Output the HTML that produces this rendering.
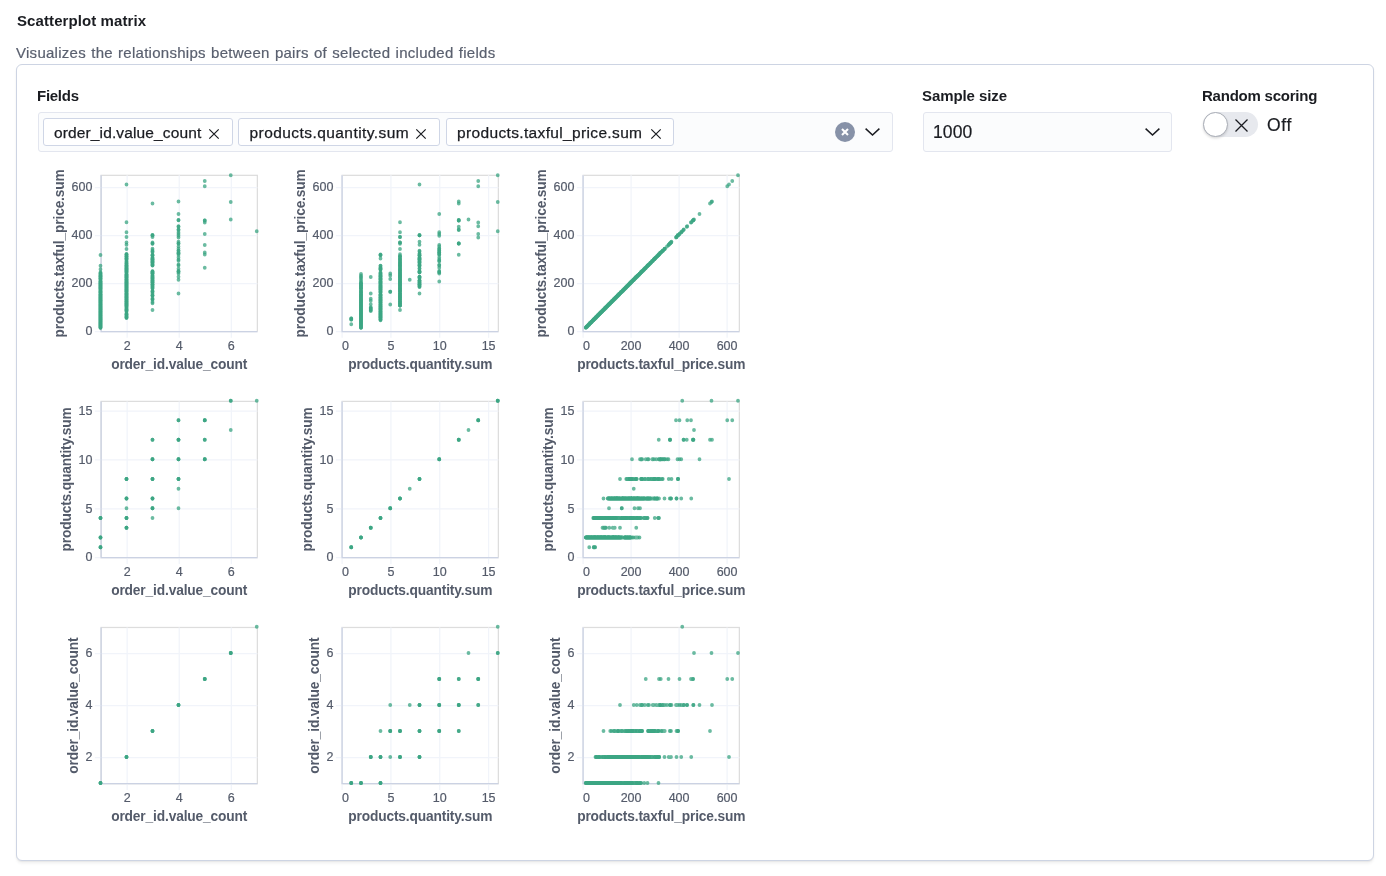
<!DOCTYPE html>
<html lang="en">
<head>
<meta charset="utf-8">
<title>Scatterplot matrix</title>
<style>
  html, body { margin: 0; padding: 0; background: #fff; }
  body {
    width: 1386px; height: 876px; position: relative; overflow: hidden;
    font-family: "Liberation Sans", Arial, Helvetica, sans-serif;
    color: #1a1c21;
    -webkit-font-smoothing: antialiased;
  }
  .abs { position: absolute; white-space: nowrap; line-height: 1; }
  .title { left: 16.8px; top: 13px; font-size: 15px; font-weight: 700; color: #1a1c21; letter-spacing: .09px; }
  .desc { left: 16.3px; top: 45px; font-size: 15px; color: #5a606f; letter-spacing: .27px; word-spacing: .8px; -webkit-text-stroke: .2px #5a606f; }
  .panel {
    position: absolute; left: 16px; top: 64px; width: 1358px; height: 797px;
    box-sizing: border-box; border: 1.25px solid #cdd4e3; border-radius: 6px;
    background: #fff;
    box-shadow: 0 1px 1.2px rgba(0,0,0,.06), 0 2.9px 2.6px rgba(0,0,0,.045);
  }
  .label { font-size: 15px; font-weight: 700; color: #1a1c21; }
  .control {
    position: absolute; box-sizing: border-box; height: 39.5px; top: 112.3px;
    background: #fbfcfd; border: 1.25px solid #e3e6ef; border-radius: 3px;
  }
  .pill {
    position: absolute; top: 118.2px; height: 28.1px; box-sizing: border-box; will-change: transform;
    background: #fff; border: 1.25px solid #cfd6e6; border-radius: 3px;
  }
  .pill span { position: absolute; top: 5.8px; font-size: 15.5px; line-height: 15.5px; -webkit-text-stroke: .25px #1a1c21; color: #1a1c21; white-space: nowrap; }
  svg.ico { position: absolute; overflow: visible; }
  svg.chart { will-change: transform; }
  .abs { will-change: transform; }
  .val { font-size: 17.5px; color: #1a1c21; }
  .switch-body { position: absolute; left: 1203px; top: 112px; width: 55px; height: 25px; border-radius: 12.5px; background: #e7e9ee; }
  .switch-thumb {
    position: absolute; left: 1203px; top: 112px; width: 25px; height: 25px; box-sizing: border-box;
    border-radius: 50%; background: #fff; border: 1px solid #a9adb6;
    box-shadow: 0 1.5px 2.5px rgba(0,0,0,.14);
  }
</style>
</head>
<body>
  <div class="abs title">Scatterplot matrix</div>
  <div class="abs desc">Visualizes the relationships between pairs of selected included fields</div>

  <div class="panel"></div>

  <div class="abs label" style="left:37.1px; top:87.6px; letter-spacing:-.27px;">Fields</div>
  <div class="control" style="left:38.3px; width:854.8px;"></div>

  <div class="pill" style="left:43.2px; width:189.5px;"><span style="left:10px; letter-spacing:.13px;">order_id.value_count</span>
    <svg class="ico" style="left:165px; top:10.3px;" width="10" height="10" viewBox="0 0 10 10"><path d="M0.3 0.3L9.7 9.7M9.7 0.3L0.3 9.7" stroke="#1a1c21" stroke-width="1.2" fill="none"/></svg></div>
  <div class="pill" style="left:238.3px; width:202.3px;"><span style="left:10.5px; letter-spacing:.435px;">products.quantity.sum</span>
    <svg class="ico" style="left:177px; top:10.3px;" width="10" height="10" viewBox="0 0 10 10"><path d="M0.3 0.3L9.7 9.7M9.7 0.3L0.3 9.7" stroke="#1a1c21" stroke-width="1.2" fill="none"/></svg></div>
  <div class="pill" style="left:446.2px; width:228.2px;"><span style="left:10px; letter-spacing:.35px;">products.taxful_price.sum</span>
    <svg class="ico" style="left:204px; top:10.3px;" width="10" height="10" viewBox="0 0 10 10"><path d="M0.3 0.3L9.7 9.7M9.7 0.3L0.3 9.7" stroke="#1a1c21" stroke-width="1.2" fill="none"/></svg></div>

  <!-- clear button + caret of combo box -->
  <svg class="ico" style="left:835px; top:122px;" width="20" height="20" viewBox="0 0 20 20">
    <circle cx="10" cy="10" r="10" fill="#8792a8"/>
    <path d="M7 7L13 13M13 7L7 13" stroke="#fff" stroke-width="2.1" fill="none"/>
  </svg>
  <svg class="ico" style="left:865.2px; top:128px;" width="15" height="8" viewBox="0 0 15 8"><path d="M0.6 0.6L7.5 7L14.4 0.6" stroke="#1a1c21" stroke-width="1.5" fill="none"/></svg>

  <div class="abs label" style="left:922.2px; top:87.7px; letter-spacing:-.09px;">Sample size</div>
  <div class="control" style="left:923.2px; width:249.2px;"></div>
  <div class="abs val" style="left:932.8px; top:124.3px; letter-spacing:.1px; -webkit-text-stroke:.2px #1a1c21;">1000</div>
  <svg class="ico" style="left:1145.2px; top:128px;" width="15" height="8" viewBox="0 0 15 8"><path d="M0.6 0.6L7.5 7L14.4 0.6" stroke="#1a1c21" stroke-width="1.5" fill="none"/></svg>

  <div class="abs label" style="left:1202.3px; top:87.7px; letter-spacing:-.23px;">Random scoring</div>
  <div class="switch-body"></div>
  <div class="switch-thumb"></div>
  <svg class="ico" style="left:1235px; top:118.5px;" width="13" height="13" viewBox="0 0 13 13"><path d="M0.5 0.5L12.5 12.5M12.5 0.5L0.5 12.5" stroke="#1a1c21" stroke-width="1.3" fill="none"/></svg>
  <div class="abs val" style="left:1267.2px; top:116.6px; letter-spacing:.7px; -webkit-text-stroke:.2px #1a1c21;">Off</div>

<svg class="chart" width="1386" height="876" viewBox="0 0 1386 876" style="position:absolute;left:0;top:0" font-family="'Liberation Sans', Helvetica, Arial, sans-serif">
<g><rect x="101.1" y="175.34" width="156.25" height="156.25" fill="none" stroke="#dddddd" stroke-width="1.25"/><path d="M127.14 175.34V337.84M179.22 175.34V337.84M231.31 175.34V337.84M94.85 331.59H257.35M94.85 283.59H257.35M94.85 235.58H257.35M94.85 187.58H257.35" stroke="#f1f4fa" stroke-width="1.25" fill="none"/><path d="M101.1 175.34V331.59H257.35" stroke="#cbd2e3" stroke-width="1.25" fill="none"/><g font-size="12.5" fill="#545b6a" stroke="#545b6a" stroke-width=".2"><text x="127.14" y="350.22" text-anchor="middle">2</text><text x="179.22" y="350.22" text-anchor="middle">4</text><text x="231.31" y="350.22" text-anchor="middle">6</text><text x="92.35" y="335.34" text-anchor="end">0</text><text x="92.35" y="287.34" text-anchor="end">200</text><text x="92.35" y="239.33" text-anchor="end">400</text><text x="92.35" y="191.33" text-anchor="end">600</text></g><g font-size="13.75" font-weight="bold" fill="#545b6a" text-anchor="middle" letter-spacing="-.15"><text x="179.22" y="369.2">order_id.value_count</text><text transform="translate(63.61 253.47) rotate(-90)">products.taxful_price.sum</text></g><g fill="none" stroke="#3aa482" stroke-width="3.8" stroke-linecap="round" stroke-opacity=".75"><path d="M100.5 255h0M100.5 272.25h0M100.5 274h0M100.5 275.75h0M100.5 276.5h0M100.5 277h0M100.5 278.25h0M100.5 278.75h0M100.5 281h0M100.5 281.75h0M100.5 282.75h0M100.5 283.25h0M100.5 283.5h0M100.5 284h0M100.5 284.75h0M100.5 285.25h0M100.5 286h0M100.5 286.25h0M100.5 287h0M100.5 287.5h0M100.5 288h0M100.5 288.5h0M100.5 288.75h0M100.5 289.25h0M100.5 291h0M100.5 291.75h0M100.5 292.25h0M100.5 292.75h0M100.5 294h0M100.5 294.25h0M100.5 294.5h0M100.5 294.75h0M100.5 295.25h0M100.5 295.5h0M100.5 296h0M100.5 296.75h0M100.5 297h0M100.5 297.5h0M100.5 297.75h0M100.5 298h0M100.5 298.25h0M100.5 298.75h0M100.5 299h0M100.5 299.5h0M100.5 299.75h0M100.5 300.25h0M100.5 300.5h0M100.5 300.75h0M100.5 301h0M100.5 301.25h0M100.5 301.5h0M100.5 302h0M100.5 302.5h0M100.5 303h0M100.5 303.75h0M100.5 304h0M100.5 304.25h0M100.5 304.75h0M100.5 305h0M100.5 305.25h0M100.5 305.5h0M100.5 306h0M100.5 306.25h0M100.5 306.5h0M100.5 306.75h0M100.5 307.5h0M100.5 307.75h0M100.5 308h0M100.5 308.25h0M100.5 308.5h0M100.5 308.75h0M100.5 309h0M100.5 309.25h0M100.5 309.5h0M100.5 309.75h0M100.5 310h0M100.5 310.5h0M100.5 311.25h0M100.5 311.5h0M100.5 311.75h0M100.5 312h0M100.5 312.25h0M100.5 312.75h0M100.5 313h0M100.5 313.25h0M100.5 313.5h0M100.5 314h0M100.5 314.5h0M100.5 315h0M100.5 315.25h0M100.5 315.5h0M100.5 315.75h0M100.5 316h0M100.5 316.25h0M100.5 316.5h0M100.5 317h0M100.5 317.5h0M100.5 317.75h0M100.5 318h0M100.5 318.5h0M100.5 318.75h0M100.5 319h0M100.5 319.25h0M100.5 319.5h0M100.5 319.75h0M100.5 320h0M100.5 320.25h0M100.5 320.5h0M100.5 321.25h0M100.5 321.5h0M100.5 321.75h0M100.5 322.25h0M100.5 322.5h0M100.5 323h0M100.5 323.25h0M100.5 323.5h0M100.5 324h0M100.5 324.5h0M100.5 325h0M100.5 325.5h0M100.5 325.75h0M100.5 326.25h0M100.5 326.5h0M100.5 326.75h0M100.5 327h0M100.5 327.5h0M126.5 222.25h0M126.5 242.5h0M126.5 254.25h0M126.5 255.25h0M126.5 256.5h0M126.5 258.5h0M126.5 259.25h0M126.5 262.75h0M126.5 264.25h0M126.5 265.75h0M126.5 266h0M126.5 267.25h0M126.5 268.25h0M126.5 268.75h0M126.5 269.25h0M126.5 270h0M126.5 270.75h0M126.5 271.75h0M126.5 274h0M126.5 274.75h0M126.5 275.25h0M126.5 275.75h0M126.5 276h0M126.5 276.75h0M126.5 277h0M126.5 277.5h0M126.5 279h0M126.5 279.5h0M126.5 279.75h0M126.5 280.5h0M126.5 281.75h0M126.5 282h0M126.5 282.25h0M126.5 282.5h0M126.5 282.75h0M126.5 283.5h0M126.5 284h0M126.5 284.25h0M126.5 285h0M126.5 285.25h0M126.5 286h0M126.5 286.5h0M126.5 287.25h0M126.5 288h0M126.5 289h0M126.5 289.5h0M126.5 289.75h0M126.5 290.25h0M126.5 290.75h0M126.5 291.25h0M126.5 291.5h0M126.5 292h0M126.5 293.5h0M126.5 294.25h0M126.5 294.75h0M126.5 295.75h0M126.5 296.25h0M126.5 296.5h0M126.5 297.25h0M126.5 297.75h0M126.5 298.75h0M126.5 299.25h0M126.5 299.75h0M126.5 301h0M126.5 301.25h0M126.5 301.75h0M126.5 302.5h0M126.5 303.5h0M126.5 304h0M126.5 304.25h0M126.5 305h0M126.5 305.5h0M126.5 306.25h0M126.5 308h0M126.5 309.75h0M126.5 310.25h0M126.5 314h0M126.5 314.75h0M126.5 316.75h0M126.5 318h0M152.5 235.25h0M152.5 242.5h0M152.5 248.75h0M152.5 252h0M152.5 255.5h0M152.5 258.25h0M152.5 259.25h0M152.5 260h0M152.5 261.5h0M152.5 263h0M152.5 264.75h0M152.5 271.25h0M152.5 272h0M152.5 272.5h0M152.5 273.5h0M152.5 275.75h0M152.5 277.75h0M152.5 279h0M152.5 280.75h0M152.5 282.25h0M152.5 282.5h0M152.5 284.75h0M152.5 286.5h0M152.5 288.5h0M152.5 291.75h0M152.5 295.5h0M152.5 299.25h0M152.5 303.25h0M178.5 214h0M178.5 226.25h0M178.5 230h0M178.5 235.75h0M178.5 243.5h0M178.5 248.75h0M178.5 253h0M178.5 254.75h0M178.5 260.75h0M178.5 268.75h0M178.5 272h0M178.5 279.75h0M204.75 186.25h0M204.75 222.5h0M204.75 252.5h0M230.75 175.25h0M256.75 231.25h0"/><path d="M100.5 265.75h0M100.5 273h0M100.5 274.5h0M100.5 275.75h0M100.5 276.5h0M100.5 277h0M100.5 278.25h0M100.5 279.25h0M100.5 281.5h0M100.5 282.25h0M100.5 282.75h0M100.5 283.25h0M100.5 283.75h0M100.5 284.25h0M100.5 285h0M100.5 285.25h0M100.5 286h0M100.5 286.5h0M100.5 287.25h0M100.5 287.75h0M100.5 288h0M100.5 288.5h0M100.5 288.75h0M100.5 290h0M100.5 291.25h0M100.5 292h0M100.5 292.25h0M100.5 292.75h0M100.5 294h0M100.5 294.25h0M100.5 294.5h0M100.5 295h0M100.5 295.25h0M100.5 295.5h0M100.5 296.5h0M100.5 296.75h0M100.5 297h0M100.5 297.5h0M100.5 298h0M100.5 298.25h0M100.5 298.5h0M100.5 299h0M100.5 299.5h0M100.5 299.75h0M100.5 300h0M100.5 300.25h0M100.5 300.5h0M100.5 300.75h0M100.5 301h0M100.5 301.25h0M100.5 301.75h0M100.5 302h0M100.5 302.5h0M100.5 303h0M100.5 303.75h0M100.5 304h0M100.5 304.5h0M100.5 304.75h0M100.5 305h0M100.5 305.25h0M100.5 305.5h0M100.5 306h0M100.5 306.25h0M100.5 306.5h0M100.5 307h0M100.5 307.5h0M100.5 307.75h0M100.5 308h0M100.5 308.25h0M100.5 308.5h0M100.5 308.75h0M100.5 309h0M100.5 309.25h0M100.5 309.5h0M100.5 309.75h0M100.5 310h0M100.5 311h0M100.5 311.25h0M100.5 311.5h0M100.5 311.75h0M100.5 312h0M100.5 312.25h0M100.5 312.75h0M100.5 313h0M100.5 313.25h0M100.5 314h0M100.5 314.25h0M100.5 314.5h0M100.5 315h0M100.5 315.25h0M100.5 315.5h0M100.5 315.75h0M100.5 316.25h0M100.5 316.5h0M100.5 317h0M100.5 317.25h0M100.5 317.5h0M100.5 317.75h0M100.5 318h0M100.5 318.5h0M100.5 318.75h0M100.5 319h0M100.5 319.25h0M100.5 319.5h0M100.5 319.75h0M100.5 320h0M100.5 320.25h0M100.5 320.5h0M100.5 321.5h0M100.5 321.75h0M100.5 322h0M100.5 322.5h0M100.5 322.75h0M100.5 323.25h0M100.5 323.5h0M100.5 324h0M100.5 324.25h0M100.5 324.75h0M100.5 325.25h0M100.5 325.5h0M100.5 325.75h0M100.5 326.25h0M100.5 326.5h0M100.5 326.75h0M100.5 327.25h0M100.5 327.75h0M126.5 232.25h0M126.5 244.75h0M126.5 254.25h0M126.5 256.25h0M126.5 257.5h0M126.5 258.75h0M126.5 261h0M126.5 263h0M126.5 265.25h0M126.5 265.75h0M126.5 266.25h0M126.5 267.75h0M126.5 268.25h0M126.5 269h0M126.5 269.75h0M126.5 270.25h0M126.5 271.25h0M126.5 272.25h0M126.5 274h0M126.5 274.75h0M126.5 275.5h0M126.5 275.75h0M126.5 276.25h0M126.5 277h0M126.5 277.25h0M126.5 277.75h0M126.5 279h0M126.5 279.5h0M126.5 280h0M126.5 280.5h0M126.5 281.75h0M126.5 282h0M126.5 282.25h0M126.5 282.5h0M126.5 283h0M126.5 283.5h0M126.5 284.25h0M126.5 284.5h0M126.5 285.25h0M126.5 285.75h0M126.5 286h0M126.5 286.75h0M126.5 287.5h0M126.5 288.25h0M126.5 289h0M126.5 289.5h0M126.5 290h0M126.5 290.25h0M126.5 291h0M126.5 291.5h0M126.5 292h0M126.5 293.25h0M126.5 293.75h0M126.5 294.25h0M126.5 294.75h0M126.5 296h0M126.5 296.5h0M126.5 297h0M126.5 297.25h0M126.5 297.75h0M126.5 299h0M126.5 299.25h0M126.5 300h0M126.5 301h0M126.5 301.5h0M126.5 302h0M126.5 303.25h0M126.5 303.5h0M126.5 304h0M126.5 304.5h0M126.5 305h0M126.5 305.5h0M126.5 306.5h0M126.5 308.75h0M126.5 310h0M126.5 311h0M126.5 314h0M126.5 315.5h0M126.5 317.25h0M152.5 203.5h0M152.5 235.25h0M152.5 243.5h0M152.5 250.25h0M152.5 254.5h0M152.5 255.5h0M152.5 258.5h0M152.5 259.5h0M152.5 260.75h0M152.5 262h0M152.5 263h0M152.5 265.25h0M152.5 271.5h0M152.5 272.25h0M152.5 273h0M152.5 273.75h0M152.5 276.75h0M152.5 278h0M152.5 280h0M152.5 281.25h0M152.5 282.25h0M152.5 284h0M152.5 284.75h0M152.5 287h0M152.5 290.75h0M152.5 293.5h0M152.5 295.75h0M152.5 299.75h0M152.5 310h0M178.5 220h0M178.5 226.75h0M178.5 232.25h0M178.5 237.5h0M178.5 243.5h0M178.5 250.75h0M178.5 253h0M178.5 257.25h0M178.5 264.5h0M178.5 271h0M178.5 273.5h0M178.5 293.5h0M204.75 220.5h0M204.75 234h0M204.75 254.5h0M230.75 202h0"/><path d="M100.5 269.25h0M100.5 273.75h0M100.5 275.75h0M100.5 276h0M100.5 276.75h0M100.5 278h0M100.5 278.5h0M100.5 280h0M100.5 281.5h0M100.5 282.75h0M100.5 283h0M100.5 283.25h0M100.5 284h0M100.5 284.5h0M100.5 285.25h0M100.5 285.75h0M100.5 286h0M100.5 287h0M100.5 287.5h0M100.5 287.75h0M100.5 288h0M100.5 288.75h0M100.5 289.25h0M100.5 290.75h0M100.5 291.5h0M100.5 292h0M100.5 292.25h0M100.5 294h0M100.5 294.25h0M100.5 294.5h0M100.5 294.75h0M100.5 295.25h0M100.5 295.5h0M100.5 295.75h0M100.5 296.5h0M100.5 297h0M100.5 297.25h0M100.5 297.5h0M100.5 298h0M100.5 298.25h0M100.5 298.75h0M100.5 299h0M100.5 299.5h0M100.5 299.75h0M100.5 300h0M100.5 300.25h0M100.5 300.5h0M100.5 300.75h0M100.5 301h0M100.5 301.5h0M100.5 302h0M100.5 302.25h0M100.5 302.75h0M100.5 303h0M100.5 304h0M100.5 304.25h0M100.5 304.5h0M100.5 304.75h0M100.5 305h0M100.5 305.25h0M100.5 305.5h0M100.5 306h0M100.5 306.25h0M100.5 306.5h0M100.5 307.25h0M100.5 307.5h0M100.5 307.75h0M100.5 308h0M100.5 308.25h0M100.5 308.75h0M100.5 309h0M100.5 309.25h0M100.5 309.5h0M100.5 309.75h0M100.5 310h0M100.5 310.25h0M100.5 311h0M100.5 311.25h0M100.5 311.5h0M100.5 312h0M100.5 312.25h0M100.5 312.5h0M100.5 313h0M100.5 313.25h0M100.5 313.5h0M100.5 314h0M100.5 314.25h0M100.5 314.5h0M100.5 315h0M100.5 315.25h0M100.5 315.5h0M100.5 316h0M100.5 316.25h0M100.5 316.5h0M100.5 317h0M100.5 317.25h0M100.5 317.75h0M100.5 318h0M100.5 318.25h0M100.5 318.5h0M100.5 318.75h0M100.5 319h0M100.5 319.25h0M100.5 319.5h0M100.5 319.75h0M100.5 320h0M100.5 320.5h0M100.5 320.75h0M100.5 321.5h0M100.5 321.75h0M100.5 322h0M100.5 322.5h0M100.5 323h0M100.5 323.25h0M100.5 323.5h0M100.5 324h0M100.5 324.5h0M100.5 324.75h0M100.5 325.25h0M100.5 325.5h0M100.5 326h0M100.5 326.5h0M100.5 326.75h0M100.5 327h0M100.5 327.5h0M126.5 184.5h0M126.5 237h0M126.5 249h0M126.5 254.5h0M126.5 256.25h0M126.5 258.25h0M126.5 259h0M126.5 261.25h0M126.5 263.75h0M126.5 265.25h0M126.5 266h0M126.5 266.5h0M126.5 268h0M126.5 268.25h0M126.5 269h0M126.5 269.75h0M126.5 270.75h0M126.5 271.5h0M126.5 272.25h0M126.5 274.75h0M126.5 275h0M126.5 275.75h0M126.5 276h0M126.5 276.25h0M126.5 277h0M126.5 277.25h0M126.5 278h0M126.5 279.25h0M126.5 279.75h0M126.5 280h0M126.5 281.25h0M126.5 281.75h0M126.5 282h0M126.5 282.25h0M126.5 282.75h0M126.5 283h0M126.5 283.75h0M126.5 284.25h0M126.5 284.75h0M126.5 285.25h0M126.5 285.75h0M126.5 286.25h0M126.5 287h0M126.5 287.75h0M126.5 288.75h0M126.5 289.25h0M126.5 289.75h0M126.5 290h0M126.5 290.5h0M126.5 291h0M126.5 291.5h0M126.5 292h0M126.5 293.5h0M126.5 293.75h0M126.5 294.5h0M126.5 295.25h0M126.5 296h0M126.5 296.5h0M126.5 297.25h0M126.5 297.5h0M126.5 298.25h0M126.5 299h0M126.5 299.5h0M126.5 300.75h0M126.5 301.25h0M126.5 301.75h0M126.5 302.5h0M126.5 303.25h0M126.5 303.75h0M126.5 304.25h0M126.5 305h0M126.5 305.25h0M126.5 305.5h0M126.5 307.25h0M126.5 309.5h0M126.5 310.25h0M126.5 312h0M126.5 314.5h0M126.5 316.25h0M126.5 317.5h0M152.5 235.25h0M152.5 237h0M152.5 243.75h0M152.5 251.5h0M152.5 255.25h0M152.5 257.75h0M152.5 259.25h0M152.5 259.5h0M152.5 261.25h0M152.5 262.5h0M152.5 264.75h0M152.5 265.5h0M152.5 272h0M152.5 272.25h0M152.5 273.5h0M152.5 275.5h0M152.5 277h0M152.5 278.75h0M152.5 280.5h0M152.5 281.5h0M152.5 282.5h0M152.5 284.5h0M152.5 285.5h0M152.5 288h0M152.5 291.75h0M152.5 295.25h0M152.5 298.25h0M152.5 302h0M178.5 201.5h0M178.5 220.25h0M178.5 229.5h0M178.5 234h0M178.5 241.75h0M178.5 246.5h0M178.5 250.75h0M178.5 253.5h0M178.5 259.5h0M178.5 265.5h0M178.5 271.5h0M178.5 276.75h0M204.75 181h0M204.75 220.5h0M204.75 245h0M204.75 267.75h0M230.75 219.5h0"/></g></g>
<g><rect x="342.1" y="175.34" width="156.25" height="156.25" fill="none" stroke="#dddddd" stroke-width="1.25"/><path d="M342.1 175.34V337.84M390.93 175.34V337.84M439.76 175.34V337.84M488.58 175.34V337.84M335.85 331.59H498.35M335.85 283.59H498.35M335.85 235.58H498.35M335.85 187.58H498.35" stroke="#f1f4fa" stroke-width="1.25" fill="none"/><path d="M342.1 175.34V331.59H498.35" stroke="#cbd2e3" stroke-width="1.25" fill="none"/><g font-size="12.5" fill="#545b6a" stroke="#545b6a" stroke-width=".2"><text x="342.1" y="350.22" text-anchor="start">0</text><text x="390.93" y="350.22" text-anchor="middle">5</text><text x="439.76" y="350.22" text-anchor="middle">10</text><text x="488.58" y="350.22" text-anchor="middle">15</text><text x="333.35" y="335.34" text-anchor="end">0</text><text x="333.35" y="287.34" text-anchor="end">200</text><text x="333.35" y="239.33" text-anchor="end">400</text><text x="333.35" y="191.33" text-anchor="end">600</text></g><g font-size="13.75" font-weight="bold" fill="#545b6a" text-anchor="middle" letter-spacing="-.15"><text x="420.23" y="369.2">products.quantity.sum</text><text transform="translate(304.61 253.47) rotate(-90)">products.taxful_price.sum</text></g><g fill="none" stroke="#3aa482" stroke-width="3.8" stroke-linecap="round" stroke-opacity=".75"><path d="M351.25 318.5h0M351.25 319.5h0M361 275.75h0M361 280h0M361 283.25h0M361 283.5h0M361 284h0M361 285.25h0M361 286h0M361 286.5h0M361 287.5h0M361 288h0M361 288.75h0M361 290.75h0M361 292h0M361 292.25h0M361 294h0M361 294.25h0M361 294.5h0M361 294.75h0M361 295.25h0M361 295.5h0M361 296h0M361 296.75h0M361 297h0M361 298h0M361 298.25h0M361 298.75h0M361 299h0M361 299.5h0M361 299.75h0M361 300.25h0M361 300.5h0M361 300.75h0M361 301h0M361 301.5h0M361 302h0M361 303h0M361 303.75h0M361 304h0M361 304.5h0M361 305h0M361 305.5h0M361 306h0M361 306.5h0M361 307.5h0M361 307.75h0M361 308h0M361 308.5h0M361 309h0M361 309.25h0M361 309.5h0M361 309.75h0M361 310h0M361 311h0M361 311.25h0M361 311.5h0M361 312h0M361 312.25h0M361 312.75h0M361 313.25h0M361 313.5h0M361 314h0M361 314.5h0M361 315h0M361 315.25h0M361 315.75h0M361 316h0M361 316.5h0M361 317h0M361 317.5h0M361 318h0M361 318.25h0M361 318.75h0M361 319h0M361 319.25h0M361 319.5h0M361 319.75h0M361 320h0M361 320.5h0M361 321.25h0M361 321.5h0M361 321.75h0M361 322.25h0M361 322.5h0M361 323h0M361 323.25h0M361 323.5h0M361 324h0M361 324.75h0M361 325.25h0M361 325.5h0M361 325.75h0M361 326.25h0M361 326.5h0M361 326.75h0M361 327.25h0M361 327.75h0M370.75 298.75h0M370.75 307.25h0M370.75 309.5h0M380.5 254.5h0M380.5 258.5h0M380.5 267.75h0M380.5 269h0M380.5 272.25h0M380.5 274h0M380.5 275.75h0M380.5 276.5h0M380.5 277h0M380.5 278.5h0M380.5 279.5h0M380.5 281h0M380.5 281.75h0M380.5 282.25h0M380.5 282.75h0M380.5 283.25h0M380.5 285.25h0M380.5 286h0M380.5 287h0M380.5 287.75h0M380.5 288.75h0M380.5 289.25h0M380.5 290.25h0M380.5 292h0M380.5 294.25h0M380.5 295.25h0M380.5 295.5h0M380.5 296.5h0M380.5 297.5h0M380.5 297.75h0M380.5 299h0M380.5 299.5h0M380.5 300.25h0M380.5 300.75h0M380.5 301.25h0M380.5 302.5h0M380.5 303.5h0M380.5 304.75h0M380.5 305h0M380.5 306h0M380.5 306.25h0M380.5 307h0M380.5 308h0M380.5 308.5h0M380.5 309h0M380.5 309.5h0M380.5 310.25h0M380.5 311.5h0M380.5 312.25h0M380.5 313h0M380.5 314h0M380.5 314.5h0M380.5 315.25h0M380.5 315.5h0M380.5 316.5h0M380.5 317h0M380.5 317.25h0M380.5 317.75h0M380.5 318h0M380.5 319.5h0M390.25 273.5h0M390.25 291.75h0M400 222.25h0M400 237h0M400 243.75h0M400 256.25h0M400 257.75h0M400 259.25h0M400 261.5h0M400 263h0M400 264.75h0M400 265.75h0M400 266.5h0M400 268.75h0M400 269.75h0M400 270.75h0M400 272h0M400 273h0M400 274h0M400 274.75h0M400 275.5h0M400 275.75h0M400 276.25h0M400 276.75h0M400 277.25h0M400 278h0M400 279h0M400 279.75h0M400 280.5h0M400 281.75h0M400 282h0M400 282.25h0M400 282.5h0M400 283.5h0M400 284.25h0M400 284.75h0M400 285.5h0M400 286.5h0M400 287.75h0M400 288.5h0M400 289.25h0M400 289.75h0M400 290.25h0M400 290.75h0M400 291.25h0M400 291.5h0M400 293.5h0M400 293.75h0M400 294.75h0M400 295.75h0M400 296.25h0M400 296.5h0M400 297.25h0M400 297.75h0M400 298.25h0M400 299.25h0M400 299.75h0M400 301.25h0M400 301.75h0M400 302h0M400 303.25h0M400 303.75h0M400 304.25h0M400 305.25h0M400 305.5h0M419.5 184.5h0M419.5 235.25h0M419.5 250.75h0M419.5 254.25h0M419.5 255.5h0M419.5 258.25h0M419.5 259.5h0M419.5 260.75h0M419.5 262.5h0M419.5 265.25h0M419.5 268.25h0M419.5 271.5h0M419.5 271.75h0M419.5 272.5h0M419.5 277h0M419.5 280.5h0M419.5 281.75h0M419.5 283.5h0M419.5 284.25h0M419.5 285h0M419.5 287h0M439.25 232.25h0M439.25 245h0M439.25 248.75h0M439.25 252h0M439.25 253h0M439.25 257.25h0M439.25 261.25h0M439.25 267.75h0M439.25 272.25h0M458.75 201.5h0M458.75 220.25h0M458.75 226.75h0M458.75 243.5h0M458.75 254.75h0M478.25 186.25h0M478.25 234h0M497.75 202h0"/><path d="M351.25 318.5h0M351.25 324.25h0M361 277h0M361 281.5h0M361 283.25h0M361 283.75h0M361 284.5h0M361 285.25h0M361 286h0M361 287h0M361 287.75h0M361 288h0M361 288.75h0M361 291h0M361 292h0M361 292.75h0M361 294h0M361 294.25h0M361 294.5h0M361 295h0M361 295.25h0M361 295.5h0M361 296.5h0M361 297h0M361 297.5h0M361 298h0M361 298.25h0M361 298.75h0M361 299.5h0M361 299.75h0M361 300h0M361 300.25h0M361 300.5h0M361 301h0M361 301.25h0M361 301.75h0M361 302.5h0M361 303h0M361 304h0M361 304.25h0M361 305h0M361 305.25h0M361 305.5h0M361 306h0M361 306.5h0M361 307.5h0M361 307.75h0M361 308h0M361 308.75h0M361 309h0M361 309.25h0M361 309.75h0M361 310h0M361 310.25h0M361 311h0M361 311.25h0M361 311.75h0M361 312h0M361 312.25h0M361 312.75h0M361 313.25h0M361 314h0M361 314.25h0M361 315h0M361 315.25h0M361 315.5h0M361 315.75h0M361 316.25h0M361 316.5h0M361 317h0M361 317.75h0M361 318h0M361 318.5h0M361 318.75h0M361 319h0M361 319.25h0M361 319.75h0M361 320h0M361 320.25h0M361 320.5h0M361 321.5h0M361 321.75h0M361 322h0M361 322.5h0M361 322.75h0M361 323.25h0M361 323.5h0M361 324h0M361 324.5h0M361 324.75h0M361 325.25h0M361 325.5h0M361 326h0M361 326.5h0M361 326.75h0M361 327h0M361 327.5h0M370.75 277h0M370.75 300.75h0M370.75 308h0M370.75 310.25h0M380.5 255h0M380.5 265.75h0M380.5 268.25h0M380.5 269.25h0M380.5 273h0M380.5 274.5h0M380.5 275.75h0M380.5 276.5h0M380.5 278h0M380.5 278.75h0M380.5 279.5h0M380.5 281.5h0M380.5 282h0M380.5 282.75h0M380.5 283h0M380.5 284.25h0M380.5 285.25h0M380.5 286.25h0M380.5 287.25h0M380.5 288h0M380.5 289h0M380.5 289.75h0M380.5 291.5h0M380.5 292h0M380.5 294.5h0M380.5 295.25h0M380.5 295.5h0M380.5 297h0M380.5 297.5h0M380.5 298h0M380.5 299h0M380.5 299.75h0M380.5 300.5h0M380.5 301h0M380.5 302h0M380.5 302.5h0M380.5 304.25h0M380.5 304.75h0M380.5 305h0M380.5 306.25h0M380.5 306.5h0M380.5 307.25h0M380.5 308.25h0M380.5 308.75h0M380.5 309.25h0M380.5 309.75h0M380.5 311.25h0M380.5 311.75h0M380.5 313h0M380.5 313.25h0M380.5 314h0M380.5 314.5h0M380.5 315.5h0M380.5 316.25h0M380.5 316.5h0M380.5 317h0M380.5 317.5h0M380.5 317.75h0M380.5 318.5h0M380.5 319.5h0M390.25 275.5h0M390.25 291.75h0M400 232.25h0M400 242.5h0M400 249h0M400 256.25h0M400 258.5h0M400 260h0M400 262.75h0M400 263.75h0M400 265.25h0M400 265.75h0M400 267.25h0M400 269h0M400 270h0M400 270.75h0M400 272.25h0M400 273.5h0M400 274.75h0M400 275h0M400 275.75h0M400 276h0M400 276.25h0M400 277h0M400 277.5h0M400 278.75h0M400 279.25h0M400 280h0M400 281.25h0M400 282h0M400 282.25h0M400 282.5h0M400 282.75h0M400 283.75h0M400 284.5h0M400 285.25h0M400 285.75h0M400 287h0M400 288h0M400 288.75h0M400 289.5h0M400 290h0M400 290.5h0M400 291h0M400 291.5h0M400 292h0M400 293.5h0M400 294.25h0M400 295.25h0M400 296h0M400 296.5h0M400 297h0M400 297.25h0M400 297.75h0M400 299h0M400 299.25h0M400 299.75h0M400 301.25h0M400 301.75h0M400 302.5h0M400 303.25h0M400 304h0M400 305h0M400 305.5h0M400 310h0M419.5 235.25h0M419.5 241.75h0M419.5 251.5h0M419.5 255.25h0M419.5 257.5h0M419.5 258.75h0M419.5 259.5h0M419.5 261.25h0M419.5 263h0M419.5 265.5h0M419.5 268.75h0M419.5 271.5h0M419.5 272h0M419.5 276.75h0M419.5 277.75h0M419.5 280.5h0M419.5 282.25h0M419.5 284h0M419.5 284.75h0M419.5 285.75h0M419.5 293.5h0M439.25 234h0M439.25 246.5h0M439.25 250.25h0M439.25 252.5h0M439.25 254.5h0M439.25 259.25h0M439.25 264.75h0M439.25 271h0M439.25 273.5h0M458.75 203.5h0M458.75 220.5h0M458.75 229.5h0M458.75 243.5h0M468.5 219.5h0M478.25 222.5h0M478.25 237.5h0M497.75 231.25h0"/><path d="M351.25 319.5h0M361 274h0M361 278.25h0M361 283h0M361 283.25h0M361 284h0M361 285h0M361 285.75h0M361 286.25h0M361 287.5h0M361 288h0M361 288.5h0M361 288.75h0M361 291.25h0M361 292.25h0M361 292.75h0M361 294h0M361 294.25h0M361 294.75h0M361 295.25h0M361 295.5h0M361 295.75h0M361 296.75h0M361 297h0M361 297.5h0M361 298h0M361 298.5h0M361 299h0M361 299.5h0M361 299.75h0M361 300h0M361 300.5h0M361 300.75h0M361 301h0M361 301.5h0M361 302h0M361 302.75h0M361 303.75h0M361 304h0M361 304.5h0M361 305h0M361 305.25h0M361 305.5h0M361 306.25h0M361 306.75h0M361 307.75h0M361 308h0M361 308.25h0M361 308.75h0M361 309h0M361 309.5h0M361 309.75h0M361 310h0M361 310.5h0M361 311.25h0M361 311.5h0M361 312h0M361 312.25h0M361 312.5h0M361 313h0M361 313.25h0M361 314h0M361 314.25h0M361 315h0M361 315.25h0M361 315.5h0M361 316h0M361 316.25h0M361 317h0M361 317.25h0M361 317.75h0M361 318h0M361 318.5h0M361 318.75h0M361 319h0M361 319.25h0M361 319.75h0M361 320h0M361 320.5h0M361 320.75h0M361 321.5h0M361 321.75h0M361 322h0M361 322.5h0M361 323h0M361 323.25h0M361 323.5h0M361 324h0M361 324.5h0M361 325h0M361 325.5h0M361 325.75h0M361 326.25h0M361 326.5h0M361 326.75h0M361 327h0M361 327.5h0M370.75 293.5h0M370.75 304.25h0M370.75 308.75h0M370.75 311h0M380.5 255.25h0M380.5 266h0M380.5 268.25h0M380.5 269.75h0M380.5 273.75h0M380.5 275.75h0M380.5 276h0M380.5 276.75h0M380.5 278.25h0M380.5 279.25h0M380.5 280h0M380.5 281.75h0M380.5 282.25h0M380.5 282.75h0M380.5 283.25h0M380.5 284.75h0M380.5 286h0M380.5 286.75h0M380.5 287.5h0M380.5 288.5h0M380.5 289.25h0M380.5 290h0M380.5 291.75h0M380.5 292.25h0M380.5 294.5h0M380.5 295.25h0M380.5 295.5h0M380.5 297.25h0M380.5 297.5h0M380.5 298.25h0M380.5 299.5h0M380.5 300h0M380.5 300.75h0M380.5 301h0M380.5 302.25h0M380.5 303h0M380.5 304.75h0M380.5 305h0M380.5 305.25h0M380.5 306.25h0M380.5 306.5h0M380.5 307.5h0M380.5 308.25h0M380.5 308.75h0M380.5 309.5h0M380.5 310h0M380.5 311.25h0M380.5 312h0M380.5 313h0M380.5 313.5h0M380.5 314.5h0M380.5 314.75h0M380.5 315.5h0M380.5 316.25h0M380.5 316.75h0M380.5 317.25h0M380.5 317.5h0M380.5 318h0M380.5 319.5h0M380.5 320.25h0M390.25 279h0M390.25 304.5h0M400 237h0M400 242.5h0M400 254.25h0M400 256.5h0M400 259.25h0M400 261h0M400 263h0M400 264.25h0M400 265.25h0M400 266.25h0M400 268h0M400 269.25h0M400 270.25h0M400 271.25h0M400 272.25h0M400 273.75h0M400 274.75h0M400 275.25h0M400 275.75h0M400 276h0M400 276.75h0M400 277.25h0M400 277.75h0M400 279h0M400 279.75h0M400 280h0M400 281.25h0M400 282h0M400 282.25h0M400 282.5h0M400 283h0M400 284h0M400 284.5h0M400 285.25h0M400 286h0M400 287.25h0M400 288.25h0M400 289h0M400 289.5h0M400 290h0M400 290.75h0M400 291h0M400 291.5h0M400 293.25h0M400 293.75h0M400 294.75h0M400 295.75h0M400 296h0M400 296.5h0M400 297.25h0M400 297.5h0M400 298.25h0M400 299h0M400 299.25h0M400 301h0M400 301.5h0M400 302h0M400 303.25h0M400 303.5h0M400 304h0M400 305h0M400 305.5h0M409.75 279.75h0M419.5 235.25h0M419.5 244.75h0M419.5 253.5h0M419.5 255.5h0M419.5 258.25h0M419.5 259h0M419.5 259.5h0M419.5 262h0M419.5 264.5h0M419.5 266h0M419.5 271.25h0M419.5 271.5h0M419.5 272.25h0M419.5 277h0M419.5 278h0M419.5 280.75h0M419.5 282.25h0M419.5 284.25h0M419.5 284.75h0M419.5 286.5h0M439.25 214h0M439.25 235.75h0M439.25 248.75h0M439.25 250.75h0M439.25 253h0M439.25 254.5h0M439.25 260.75h0M439.25 265.5h0M439.25 272h0M439.25 281.5h0M458.75 220h0M458.75 220.5h0M458.75 230h0M458.75 243.5h0M478.25 181h0M478.25 226.25h0M497.75 175.25h0"/></g></g>
<g><rect x="583.1" y="175.34" width="156.25" height="156.25" fill="none" stroke="#dddddd" stroke-width="1.25"/><path d="M583.1 175.34V337.84M631.1 175.34V337.84M679.11 175.34V337.84M727.11 175.34V337.84M576.85 331.59H739.35M576.85 283.59H739.35M576.85 235.58H739.35M576.85 187.58H739.35" stroke="#f1f4fa" stroke-width="1.25" fill="none"/><path d="M583.1 175.34V331.59H739.35" stroke="#cbd2e3" stroke-width="1.25" fill="none"/><g font-size="12.5" fill="#545b6a" stroke="#545b6a" stroke-width=".2"><text x="583.1" y="350.22" text-anchor="start">0</text><text x="631.1" y="350.22" text-anchor="middle">200</text><text x="679.11" y="350.22" text-anchor="middle">400</text><text x="727.11" y="350.22" text-anchor="middle">600</text><text x="574.35" y="335.34" text-anchor="end">0</text><text x="574.35" y="287.34" text-anchor="end">200</text><text x="574.35" y="239.33" text-anchor="end">400</text><text x="574.35" y="191.33" text-anchor="end">600</text></g><g font-size="13.75" font-weight="bold" fill="#545b6a" text-anchor="middle" letter-spacing="-.15"><text x="661.23" y="369.2">products.taxful_price.sum</text><text transform="translate(545.61 253.47) rotate(-90)">products.taxful_price.sum</text></g><g fill="none" stroke="#3aa482" stroke-width="3.8" stroke-linecap="round" stroke-opacity=".75"><path d="M585.75 327.75h0M586 327.5h0M586.75 326.5h0M586.75 326.75h0M587.25 326.25h0M587.75 325.75h0M588 325.5h0M588.25 325.25h0M588.75 324.75h0M589.25 324h0M589.5 324h0M590 323.25h0M590 323.5h0M590.25 323.25h0M591 322.25h0M591 322.5h0M591.5 322h0M591.75 321.75h0M592 321.5h0M592.75 320.5h0M593 320.5h0M593.5 319.75h0M593.5 320h0M593.75 319.5h0M594 319.5h0M594.25 319h0M594.5 319h0M594.75 318.75h0M595 318.5h0M595.25 318h0M595.5 318h0M595.75 317.5h0M595.75 317.75h0M596 317.5h0M596.25 317.25h0M596.5 317h0M597 316.25h0M597 316.5h0M597.25 316.25h0M597.75 315.5h0M598 315.25h0M598 315.5h0M598.25 315.25h0M598.5 314.75h0M599 314.5h0M599.25 314h0M599.25 314.25h0M599.5 314h0M600 313.25h0M600.25 313.25h0M600.5 312.75h0M600.5 313h0M601 312.25h0M601.25 312.25h0M601.5 312h0M601.75 311.75h0M602 311.5h0M602.25 311.25h0M602.5 311h0M603 310.25h0M603.25 310.25h0M603.5 310h0M603.75 309.75h0M604 309.5h0M604.25 309.25h0M604.5 309h0M604.75 308.75h0M605 308.5h0M605.25 308h0M605.5 307.75h0M605.75 307.5h0M605.75 307.75h0M606 307.5h0M606.75 306.5h0M607 306.5h0M607.25 306.25h0M607.5 306h0M607.75 305.5h0M608 305.5h0M608.25 305h0M608.25 305.25h0M608.5 305h0M608.75 304.75h0M609 304.5h0M609.25 304h0M609.25 304.25h0M609.5 304h0M609.75 303.75h0M610.25 303.25h0M610.5 302.75h0M610.75 302.5h0M611 302.5h0M611.5 301.75h0M611.5 302h0M612 301.5h0M612.25 301h0M612.25 301.25h0M612.5 300.75h0M612.5 301h0M612.75 300.75h0M613 300.5h0M613.25 300.25h0M613.5 300h0M613.75 299.75h0M614 299.25h0M614 299.5h0M614.25 299.25h0M614.5 299h0M614.75 298.75h0M615 298.25h0M615.25 298.25h0M615.5 298h0M615.75 297.5h0M615.75 297.75h0M616 297.5h0M616.25 297.25h0M616.5 297h0M616.75 296.5h0M617 296.5h0M617.25 296h0M617.5 296h0M617.75 295.75h0M618 295.25h0M618 295.5h0M618.25 295.25h0M618.75 294.75h0M619 294.25h0M619 294.5h0M619.25 294.25h0M619.5 293.75h0M619.5 294h0M620 293.5h0M620.5 292.75h0M621.25 292h0M621.5 292h0M621.75 291.5h0M621.75 291.75h0M622 291.5h0M622.5 291h0M622.75 290.75h0M623 290.5h0M623.25 290.25h0M623.75 289.75h0M624 289.5h0M624.25 289.25h0M624.75 288.75h0M625 288.5h0M625.25 288h0M625.5 288h0M625.75 287.75h0M626 287.5h0M626.25 287.25h0M626.5 287h0M627 286.25h0M627 286.5h0M627.5 285.75h0M627.5 286h0M628 285.5h0M628.25 285.25h0M628.5 285h0M628.75 284.75h0M629 284.5h0M629.25 284.25h0M629.5 284h0M629.75 283.5h0M630 283.25h0M630.25 283h0M630.25 283.25h0M630.5 283h0M630.75 282.75h0M631 282.25h0M631 282.5h0M631.25 282.25h0M631.5 281.75h0M631.5 282h0M632 281.25h0M632 281.5h0M632.5 281h0M633 280.5h0M633.5 280h0M633.75 279.75h0M634 279.5h0M634.25 279.25h0M634.5 279h0M635.25 278h0M635.25 278.25h0M635.75 277.5h0M636.25 277h0M636.25 277.25h0M636.5 277h0M636.75 276.75h0M637 276.5h0M637.5 275.75h0M637.5 276h0M637.75 275.75h0M638 275.5h0M638.75 274.75h0M639.5 274h0M639.75 273.75h0M640 273.5h0M640.5 273h0M641.25 272h0M641.25 272.25h0M641.75 271.5h0M642.25 271h0M642.75 270.75h0M643.5 270h0M644.25 269.25h0M644.5 269h0M645.25 268.25h0M645.5 268h0M646.25 267.25h0M647.5 265.75h0M647.5 266h0M648 265.5h0M648.25 265.25h0M649 264.5h0M650.25 263h0M650.75 262.75h0M652 261.5h0M652.25 261.25h0M653.5 260h0M654 259.5h0M654.25 259.25h0M654.75 258.5h0M655.25 258.25h0M656.25 257.25h0M657.25 256.25h0M658.25 255.25h0M658.75 254.75h0M659 254.5h0M659.75 253.5h0M660.75 252.5h0M662.75 250.75h0M664.5 249h0M667 246.5h0M669.75 243.75h0M670 243.5h0M671.5 241.75h0M676.5 237h0M678 235.25h0M679.5 234h0M682.25 231.25h0M686.75 226.75h0M691.25 222.25h0M693.25 220.25h0M699.5 214h0M712 201.5h0M732.25 181h0"/><path d="M586 327.25h0M586.5 327h0M586.75 326.75h0M587 326.5h0M587.25 326.25h0M587.75 325.75h0M588 325.5h0M588.5 325h0M588.75 324.75h0M589.25 324.25h0M589.5 324h0M590 323.5h0M590.25 323h0M590.25 323.25h0M591 322.5h0M591.5 321.75h0M591.5 322h0M592 321.5h0M592.25 321.25h0M593 320.25h0M593.25 320.25h0M593.5 320h0M593.75 319.5h0M593.75 319.75h0M594 319.5h0M594.25 319.25h0M594.5 319h0M594.75 318.75h0M595 318.5h0M595.25 318.25h0M595.5 318h0M595.75 317.75h0M596 317.25h0M596.25 317h0M596.25 317.25h0M596.5 317h0M597 316.5h0M597.25 316.25h0M597.5 316h0M597.75 315.75h0M598 315.25h0M598 315.5h0M598.25 315.25h0M598.5 315h0M599 314.5h0M599.25 314h0M599.5 314h0M599.75 313.5h0M600 313.25h0M600.25 313.25h0M600.5 312.75h0M600.5 313h0M601.25 312h0M601.25 312.25h0M601.5 312h0M602 311.25h0M602 311.5h0M602.25 311.25h0M602.5 311h0M603 310.5h0M603.5 310h0M603.75 309.75h0M604 309.25h0M604 309.5h0M604.5 309h0M604.75 308.75h0M605 308.25h0M605 308.5h0M605.25 308h0M605.5 308h0M605.75 307.5h0M605.75 307.75h0M606.25 307h0M606.75 306.75h0M607 306.5h0M607.25 306.25h0M607.5 306h0M607.75 305.5h0M608 305.5h0M608.25 305.25h0M608.5 304.75h0M608.5 305h0M608.75 304.75h0M609.25 304h0M609.25 304.25h0M609.5 303.75h0M609.75 303.5h0M610 303.5h0M610.25 303.25h0M610.5 303h0M611 302.25h0M611 302.5h0M611.5 302h0M611.75 301.75h0M612 301.5h0M612.25 301h0M612.25 301.25h0M612.5 301h0M612.75 300.75h0M613 300.5h0M613.25 300.25h0M613.5 299.75h0M613.5 300h0M613.75 299.75h0M614 299.5h0M614.25 299h0M614.25 299.25h0M614.5 299h0M614.75 298.75h0M615 298.5h0M615.25 298.25h0M615.5 298h0M615.75 297.5h0M615.75 297.75h0M616.25 297h0M616.25 297.25h0M616.5 297h0M616.75 296.75h0M617 296.5h0M617.25 296.25h0M617.75 295.5h0M617.75 295.75h0M618 295.25h0M618 295.5h0M618.25 295.25h0M618.75 294.75h0M619 294.25h0M619 294.5h0M619.25 294.25h0M619.5 293.75h0M620 293.5h0M620.25 293.25h0M621 292.25h0M621.25 292.25h0M621.5 292h0M621.75 291.75h0M622 291.5h0M622.25 291.25h0M622.5 291h0M622.75 290.75h0M623.25 290h0M623.5 290h0M623.75 289.75h0M624.25 289h0M624.25 289.25h0M624.75 288.75h0M625 288.5h0M625.25 288.25h0M625.5 288h0M625.75 287.75h0M626 287.5h0M626.25 287.25h0M626.5 287h0M627 286.5h0M627.25 286h0M627.5 286h0M627.75 285.75h0M628.25 285.25h0M628.5 284.75h0M628.75 284.75h0M629 284.25h0M629 284.5h0M629.25 284.25h0M629.5 284h0M629.75 283.75h0M630 283.25h0M630.25 283h0M630.25 283.25h0M630.75 282.75h0M631 282.25h0M631 282.5h0M631.25 282h0M631.25 282.25h0M631.5 281.75h0M631.5 282h0M632 281.25h0M632 281.5h0M633 280.5h0M633.25 280h0M633.5 280h0M633.75 279.75h0M634.25 279h0M634.5 278.75h0M634.75 278.75h0M635.25 278h0M635.5 277.75h0M635.75 277.75h0M636.25 277h0M636.5 277h0M636.75 276.75h0M637 276.25h0M637.25 276.25h0M637.5 276h0M637.75 275.75h0M638 275.25h0M638.5 275h0M638.75 274.75h0M639.5 274h0M639.75 273.75h0M640 273.5h0M641 272.5h0M641.25 272.25h0M641.5 272h0M641.75 271.75h0M642.25 271.25h0M642.75 270.75h0M643.75 269.75h0M644.25 269.25h0M644.5 269h0M645.25 268.25h0M645.75 267.75h0M646.75 266.5h0M647.5 265.75h0M647.5 266h0M648.25 265.25h0M648.5 264.75h0M649.25 264.25h0M650.5 263h0M651 262.5h0M652.25 261h0M652.75 260.75h0M653.75 259.5h0M654 259.5h0M654.5 259h0M654.75 258.75h0M655.5 257.75h0M657 256.5h0M658 255.5h0M658.25 255.25h0M659 254.25h0M659 254.5h0M660.25 253h0M661.5 252h0M662.75 250.75h0M664.75 248.75h0M668.5 245h0M670 243.5h0M671 242.5h0M676 237.5h0M677.5 235.75h0M678 235.25h0M681.25 232.25h0M683.5 230h0M687.25 226.25h0M693 220.5h0M693.5 220h0M710 203.5h0M727.25 186.25h0M738 175.25h0"/><path d="M586 327.5h0M586.5 327h0M586.75 326.75h0M587 326.5h0M587.5 326h0M588 325.5h0M588.25 325.25h0M588.75 324.5h0M589 324.5h0M589.5 324h0M590 323.25h0M590 323.5h0M590.25 323h0M590.75 322.75h0M591 322.5h0M591.5 321.75h0M591.75 321.75h0M592 321.5h0M592.5 320.75h0M593 320.5h0M593.5 319.75h0M593.5 320h0M593.75 319.5h0M594 319.25h0M594 319.5h0M594.25 319.25h0M594.75 318.5h0M594.75 318.75h0M595 318.5h0M595.5 317.75h0M595.5 318h0M595.75 317.75h0M596 317.5h0M596.25 317h0M596.5 317h0M596.75 316.75h0M597 316.5h0M597.25 316.25h0M597.5 316h0M597.75 315.75h0M598 315.5h0M598.25 315h0M598.25 315.25h0M598.5 315h0M599 314.5h0M599.25 314.25h0M599.5 314h0M600 313.25h0M600 313.5h0M600.25 313.25h0M600.5 313h0M600.75 312.5h0M601.25 312h0M601.25 312.25h0M601.75 311.75h0M602 311.5h0M602.25 311h0M602.25 311.25h0M603 310.25h0M603.25 310h0M603.5 310h0M603.75 309.75h0M604 309.5h0M604.25 309.25h0M604.5 309h0M604.75 308.75h0M605 308.25h0M605.25 308h0M605.25 308.25h0M605.5 308h0M605.75 307.75h0M606 307.25h0M606.25 307.25h0M607 306.25h0M607 306.5h0M607.25 306.25h0M607.5 306h0M608 305.25h0M608 305.5h0M608.25 305.25h0M608.5 305h0M608.75 304.5h0M609 304.5h0M609.25 304h0M609.25 304.25h0M609.5 304h0M609.75 303.75h0M610.25 303h0M610.25 303.25h0M610.5 303h0M611 302.5h0M611.25 302h0M611.5 302h0M611.75 301.75h0M612 301.5h0M612.25 301h0M612.25 301.25h0M612.5 301h0M612.75 300.75h0M613 300.5h0M613.25 300.25h0M613.5 300h0M613.75 299.5h0M613.75 299.75h0M614 299.5h0M614.25 299h0M614.5 299h0M614.75 298.75h0M615 298.25h0M615.25 298.25h0M615.5 298h0M615.75 297.5h0M615.75 297.75h0M616 297.5h0M616.25 297.25h0M616.5 297h0M616.75 296.5h0M616.75 296.75h0M617 296.5h0M617.5 296h0M617.75 295.5h0M617.75 295.75h0M618 295.5h0M618.25 295h0M618.25 295.25h0M618.75 294.75h0M619 294.5h0M619.25 294h0M619.25 294.25h0M619.5 294h0M620 293.5h0M620.5 292.75h0M621.25 292h0M621.25 292.25h0M621.5 292h0M621.75 291.75h0M622 291.5h0M622.25 291.25h0M622.5 291h0M622.75 290.75h0M623.25 290.25h0M623.5 290h0M624 289.5h0M624.25 289.25h0M624.5 289h0M624.75 288.75h0M625 288.5h0M625.5 288h0M625.75 287.5h0M625.75 287.75h0M626.25 287h0M626.5 287h0M626.75 286.75h0M627 286.5h0M627.25 286.25h0M627.5 286h0M627.75 285.75h0M628.25 285.25h0M628.5 285h0M628.75 284.75h0M629 284.5h0M629.25 284.25h0M629.5 284h0M629.75 283.5h0M629.75 283.75h0M630 283.5h0M630.25 283.25h0M630.5 282.75h0M630.75 282.75h0M631 282.25h0M631 282.5h0M631.25 282.25h0M631.5 281.75h0M631.5 282h0M631.75 281.75h0M632 281.5h0M632.5 280.75h0M633 280.5h0M633.25 280h0M633.75 279.5h0M633.75 279.75h0M634.25 279.25h0M634.5 279h0M635 278.5h0M635.25 278.25h0M635.5 278h0M636 277.25h0M636.25 277h0M636.5 277h0M636.75 276.75h0M637 276.5h0M637.5 275.75h0M637.5 276h0M637.75 275.75h0M638 275.5h0M638.75 274.75h0M639 274.5h0M639.5 274h0M640 273.5h0M640.5 273h0M641.25 272h0M641.25 272.25h0M641.75 271.5h0M642 271.5h0M642.25 271.25h0M643.25 270.25h0M643.75 269.75h0M644.5 268.75h0M644.75 268.75h0M645.25 268.25h0M645.75 267.75h0M647.25 266.25h0M647.5 265.75h0M647.75 265.5h0M648.25 265.25h0M648.75 264.75h0M649.75 263.75h0M650.5 263h0M651.5 262h0M652.25 261.25h0M652.75 260.75h0M654 259.25h0M654.25 259.25h0M654.75 258.5h0M655.25 258.25h0M656 257.5h0M657.25 256.25h0M658 255.5h0M658.5 255h0M659 254.5h0M659.25 254.25h0M660.25 253h0M662 251.5h0M663.25 250.25h0M664.75 248.75h0M668.75 244.75h0M670 243.5h0M671 242.5h0M676.5 237h0M678 235.25h0M679.5 234h0M681.25 232.25h0M683.75 229.5h0M691 222.5h0M693 220.5h0M694 219.5h0M711.5 202h0M729 184.5h0"/></g></g>
<g><rect x="101.1" y="401.4" width="156.25" height="156.25" fill="none" stroke="#dddddd" stroke-width="1.25"/><path d="M127.14 401.4V563.9M179.22 401.4V563.9M231.31 401.4V563.9M94.85 557.65H257.35M94.85 508.82H257.35M94.85 459.99H257.35M94.85 411.17H257.35" stroke="#f1f4fa" stroke-width="1.25" fill="none"/><path d="M101.1 401.4V557.65H257.35" stroke="#cbd2e3" stroke-width="1.25" fill="none"/><g font-size="12.5" fill="#545b6a" stroke="#545b6a" stroke-width=".2"><text x="127.14" y="576.27" text-anchor="middle">2</text><text x="179.22" y="576.27" text-anchor="middle">4</text><text x="231.31" y="576.27" text-anchor="middle">6</text><text x="92.35" y="561.4" text-anchor="end">0</text><text x="92.35" y="512.57" text-anchor="end">5</text><text x="92.35" y="463.74" text-anchor="end">10</text><text x="92.35" y="414.92" text-anchor="end">15</text></g><g font-size="13.75" font-weight="bold" fill="#545b6a" text-anchor="middle" letter-spacing="-.15"><text x="179.22" y="595.26">order_id.value_count</text><text transform="translate(70.56 479.52) rotate(-90)">products.quantity.sum</text></g><g fill="none" stroke="#3aa482" stroke-width="3.8" stroke-linecap="round" stroke-opacity=".75"><path d="M100.5 518h0M100.5 537.5h0M100.5 547.25h0M126.5 479h0M126.5 498.5h0M126.5 508.25h0M126.5 518h0M126.5 527.75h0M152.5 459.25h0M152.5 479h0M152.5 498.5h0M152.5 508.25h0M152.5 518h0M178.5 439.75h0M178.5 459.25h0M178.5 479h0M178.5 488.75h0M204.75 420.25h0M204.75 439.75h0M204.75 459.25h0M230.75 430h0"/><path d="M100.5 518h0M100.5 537.5h0M100.5 547.25h0M126.5 479h0M126.5 498.5h0M126.5 518h0M126.5 527.75h0M152.5 439.75h0M152.5 459.25h0M152.5 479h0M152.5 498.5h0M152.5 508.25h0M178.5 420.25h0M178.5 439.75h0M178.5 459.25h0M178.5 479h0M178.5 508.25h0M204.75 420.25h0M204.75 459.25h0M230.75 400.75h0M256.75 400.75h0"/><path d="M100.5 518h0M100.5 537.5h0M100.5 547.25h0M126.5 479h0M126.5 498.5h0M126.5 518h0M126.5 527.75h0M152.5 439.75h0M152.5 459.25h0M152.5 479h0M152.5 498.5h0M152.5 508.25h0M178.5 420.25h0M178.5 439.75h0M178.5 459.25h0M178.5 479h0M204.75 420.25h0M204.75 439.75h0M204.75 459.25h0M230.75 400.75h0"/></g></g>
<g><rect x="342.1" y="401.4" width="156.25" height="156.25" fill="none" stroke="#dddddd" stroke-width="1.25"/><path d="M342.1 401.4V563.9M390.93 401.4V563.9M439.76 401.4V563.9M488.58 401.4V563.9M335.85 557.65H498.35M335.85 508.82H498.35M335.85 459.99H498.35M335.85 411.17H498.35" stroke="#f1f4fa" stroke-width="1.25" fill="none"/><path d="M342.1 401.4V557.65H498.35" stroke="#cbd2e3" stroke-width="1.25" fill="none"/><g font-size="12.5" fill="#545b6a" stroke="#545b6a" stroke-width=".2"><text x="342.1" y="576.27" text-anchor="start">0</text><text x="390.93" y="576.27" text-anchor="middle">5</text><text x="439.76" y="576.27" text-anchor="middle">10</text><text x="488.58" y="576.27" text-anchor="middle">15</text><text x="333.35" y="561.4" text-anchor="end">0</text><text x="333.35" y="512.57" text-anchor="end">5</text><text x="333.35" y="463.74" text-anchor="end">10</text><text x="333.35" y="414.92" text-anchor="end">15</text></g><g font-size="13.75" font-weight="bold" fill="#545b6a" text-anchor="middle" letter-spacing="-.15"><text x="420.23" y="595.26">products.quantity.sum</text><text transform="translate(311.56 479.52) rotate(-90)">products.quantity.sum</text></g><g fill="none" stroke="#3aa482" stroke-width="3.8" stroke-linecap="round" stroke-opacity=".75"><path d="M351.25 547.25h0M361 537.5h0M370.75 527.75h0M380.5 518h0M390.25 508.25h0M400 498.5h0M409.75 488.75h0M419.5 479h0M439.25 459.25h0M458.75 439.75h0M478.25 420.25h0M497.75 400.75h0"/><path d="M351.25 547.25h0M361 537.5h0M370.75 527.75h0M380.5 518h0M390.25 508.25h0M400 498.5h0M419.5 479h0M439.25 459.25h0M458.75 439.75h0M468.5 430h0M478.25 420.25h0M497.75 400.75h0"/><path d="M351.25 547.25h0M361 537.5h0M370.75 527.75h0M380.5 518h0M390.25 508.25h0M400 498.5h0M419.5 479h0M439.25 459.25h0M458.75 439.75h0M478.25 420.25h0M497.75 400.75h0"/></g></g>
<g><rect x="583.1" y="401.4" width="156.25" height="156.25" fill="none" stroke="#dddddd" stroke-width="1.25"/><path d="M583.1 401.4V563.9M631.1 401.4V563.9M679.11 401.4V563.9M727.11 401.4V563.9M576.85 557.65H739.35M576.85 508.82H739.35M576.85 459.99H739.35M576.85 411.17H739.35" stroke="#f1f4fa" stroke-width="1.25" fill="none"/><path d="M583.1 401.4V557.65H739.35" stroke="#cbd2e3" stroke-width="1.25" fill="none"/><g font-size="12.5" fill="#545b6a" stroke="#545b6a" stroke-width=".2"><text x="583.1" y="576.27" text-anchor="start">0</text><text x="631.1" y="576.27" text-anchor="middle">200</text><text x="679.11" y="576.27" text-anchor="middle">400</text><text x="727.11" y="576.27" text-anchor="middle">600</text><text x="574.35" y="561.4" text-anchor="end">0</text><text x="574.35" y="512.57" text-anchor="end">5</text><text x="574.35" y="463.74" text-anchor="end">10</text><text x="574.35" y="414.92" text-anchor="end">15</text></g><g font-size="13.75" font-weight="bold" fill="#545b6a" text-anchor="middle" letter-spacing="-.15"><text x="661.23" y="595.26">products.taxful_price.sum</text><text transform="translate(552.56 479.52) rotate(-90)">products.quantity.sum</text></g><g fill="none" stroke="#3aa482" stroke-width="3.8" stroke-linecap="round" stroke-opacity=".75"><path d="M585.75 537.5h0M586 537.5h0M586.75 537.5h0M587 537.5h0M587.25 537.5h0M587.75 537.5h0M588 537.5h0M588.5 537.5h0M588.75 537.5h0M589.25 547.25h0M589.5 537.5h0M590 537.5h0M590.25 537.5h0M591 537.5h0M591.5 537.5h0M591.75 537.5h0M592 537.5h0M592.75 537.5h0M593 537.5h0M593.5 537.5h0M593.75 537.5h0M593.75 547.25h0M594 518h0M594.25 537.5h0M594.5 537.5h0M594.75 537.5h0M595 547.25h0M595.25 537.5h0M595.5 518h0M595.75 518h0M595.75 537.5h0M596 537.5h0M596.25 518h0M596.5 537.5h0M597 518h0M597 537.5h0M597.25 518h0M597.5 537.5h0M597.75 537.5h0M598 518h0M598 537.5h0M598.25 537.5h0M598.5 537.5h0M599 518h0M599.25 537.5h0M599.5 518h0M599.75 518h0M600 537.5h0M600.25 537.5h0M600.5 518h0M600.5 537.5h0M601.25 518h0M601.25 537.5h0M601.5 537.5h0M602 518h0M602 537.5h0M602.25 537.5h0M602.5 527.75h0M603 537.5h0M603.25 527.75h0M603.5 537.5h0M603.75 537.5h0M604 518h0M604 537.5h0M604.25 518h0M604.5 537.5h0M604.75 518h0M604.75 537.5h0M605 518h0M605.25 518h0M605.25 537.5h0M605.5 537.5h0M605.75 537.5h0M606 527.75h0M606.25 518h0M607 518h0M607 537.5h0M607.25 537.5h0M607.5 537.5h0M608 498.5h0M608 537.5h0M608.25 498.5h0M608.25 537.5h0M608.5 518h0M608.5 537.5h0M608.75 518h0M609 537.5h0M609.25 498.5h0M609.25 537.5h0M609.5 537.5h0M609.75 498.5h0M610.25 498.5h0M610.25 518h0M610.5 537.5h0M611 518h0M611.25 537.5h0M611.5 498.5h0M611.75 498.5h0M612 537.5h0M612.25 498.5h0M612.25 518h0M612.5 498.5h0M612.5 537.5h0M612.75 537.5h0M613 537.5h0M613.25 518h0M613.5 518h0M613.5 537.5h0M613.75 518h0M613.75 537.5h0M614 537.5h0M614.25 498.5h0M614.25 537.5h0M614.5 518h0M614.75 537.5h0M615 518h0M615.25 537.5h0M615.5 537.5h0M615.75 498.5h0M615.75 518h0M615.75 537.5h0M616.25 498.5h0M616.25 518h0M616.5 518h0M616.5 537.5h0M616.75 537.5h0M617 498.5h0M617.25 498.5h0M617.5 537.5h0M617.75 518h0M618 518h0M618 537.5h0M618.25 518h0M618.25 537.5h0M618.75 498.5h0M619 518h0M619 537.5h0M619.25 518h0M619.5 498.5h0M619.5 537.5h0M620 498.5h0M620.5 537.5h0M621.25 498.5h0M621.25 537.5h0M621.5 537.5h0M621.75 518h0M622 498.5h0M622.25 537.5h0M622.5 537.5h0M622.75 537.5h0M623.25 498.5h0M623.5 518h0M624 498.5h0M624.25 518h0M624.5 498.5h0M624.75 537.5h0M625 498.5h0M625.25 498.5h0M625.5 518h0M625.75 498.5h0M625.75 537.5h0M626.25 479h0M626.5 498.5h0M626.75 518h0M627 518h0M627.25 537.5h0M627.5 518h0M627.75 498.5h0M628.25 498.5h0M628.25 518h0M628.5 479h0M628.75 479h0M629 479h0M629 537.5h0M629.25 518h0M629.5 537.5h0M629.75 498.5h0M630 498.5h0M630.25 498.5h0M630.25 537.5h0M630.5 537.5h0M630.75 518h0M631 498.5h0M631.25 479h0M631.25 498.5h0M631.5 498.5h0M631.5 518h0M632 459.25h0M632 518h0M632.5 518h0M633 498.5h0M633.5 498.5h0M633.75 498.5h0M634 518h0M634.25 518h0M634.5 518h0M635.25 479h0M635.25 537.5h0M635.75 498.5h0M636.25 498.5h0M636.25 537.5h0M636.5 518h0M636.75 498.5h0M637 518h0M637.5 498.5h0M637.5 518h0M637.75 498.5h0M637.75 537.5h0M638 508.25h0M638.75 498.5h0M639.5 498.5h0M639.75 498.5h0M640 498.5h0M640.5 518h0M641.25 459.25h0M641.25 498.5h0M641.5 498.5h0M641.75 479h0M642.25 479h0M642.75 498.5h0M643.75 498.5h0M644.25 518h0M644.5 518h0M645.25 518h0M645.75 459.25h0M646.75 498.5h0M647.5 498.5h0M647.5 518h0M648.25 479h0M648.5 459.25h0M649.25 498.5h0M650.5 479h0M651 479h0M652.25 459.25h0M652.75 459.25h0M653.75 479h0M654 479h0M654.5 479h0M654.75 518h0M655.5 498.5h0M657 498.5h0M658 479h0M658.25 518h0M659 459.25h0M659 518h0M660.25 459.25h0M661.5 459.25h0M662.75 479h0M664.75 459.25h0M668.5 459.25h0M670 439.75h0M671 498.5h0M676 420.25h0M677.5 459.25h0M678 479h0M681.25 459.25h0M683.5 439.75h0M687.25 420.25h0M693 439.75h0M693.5 439.75h0M710 439.75h0M727.25 420.25h0M738 400.75h0"/><path d="M586 537.5h0M586.5 537.5h0M586.75 537.5h0M587 537.5h0M587.5 537.5h0M588 537.5h0M588.25 537.5h0M588.75 537.5h0M589 537.5h0M589.5 537.5h0M590 537.5h0M590.25 537.5h0M590.75 537.5h0M591 537.5h0M591.5 537.5h0M592 537.5h0M592.25 537.5h0M593 537.5h0M593.25 518h0M593.5 537.5h0M593.75 537.5h0M594 518h0M594 537.5h0M594.25 537.5h0M594.75 537.5h0M595 518h0M595 547.25h0M595.5 518h0M595.5 537.5h0M595.75 537.5h0M596 518h0M596.25 518h0M596.25 537.5h0M596.5 537.5h0M597 518h0M597 537.5h0M597.25 537.5h0M597.75 518h0M598 518h0M598 537.5h0M598.25 537.5h0M598.5 518h0M599 518h0M599 537.5h0M599.25 537.5h0M599.5 537.5h0M600 537.5h0M600.25 518h0M600.5 518h0M600.5 537.5h0M600.75 537.5h0M601.25 518h0M601.25 537.5h0M601.75 518h0M602 537.5h0M602.25 518h0M602.25 537.5h0M602.5 537.5h0M603 537.5h0M603.5 498.5h0M603.5 537.5h0M603.75 537.5h0M604 518h0M604 537.5h0M604.25 537.5h0M604.5 537.5h0M604.75 518h0M604.75 537.5h0M605 537.5h0M605.25 518h0M605.25 537.5h0M605.5 537.5h0M605.75 537.5h0M606 537.5h0M606.75 537.5h0M607 518h0M607.25 518h0M607.5 518h0M607.75 498.5h0M608 498.5h0M608 537.5h0M608.25 498.5h0M608.5 498.5h0M608.5 518h0M608.5 537.5h0M608.75 537.5h0M609.25 498.5h0M609.25 518h0M609.25 537.5h0M609.5 537.5h0M609.75 537.5h0M610.25 498.5h0M610.5 537.5h0M610.75 518h0M611 518h0M611.5 498.5h0M611.5 518h0M611.75 537.5h0M612 537.5h0M612.25 518h0M612.25 537.5h0M612.5 518h0M612.75 518h0M612.75 537.5h0M613 537.5h0M613.25 537.5h0M613.5 518h0M613.75 498.5h0M613.75 537.5h0M614 498.5h0M614 537.5h0M614.25 498.5h0M614.5 498.5h0M614.5 518h0M614.75 537.5h0M615 537.5h0M615.25 537.5h0M615.5 537.5h0M615.75 498.5h0M615.75 518h0M616 518h0M616.25 498.5h0M616.25 537.5h0M616.5 537.5h0M616.75 498.5h0M616.75 537.5h0M617 518h0M617.25 498.5h0M617.75 498.5h0M617.75 518h0M618 518h0M618 537.5h0M618.25 518h0M618.25 537.5h0M618.75 537.5h0M619 518h0M619 537.5h0M619.25 537.5h0M619.5 498.5h0M620 479h0M620 527.75h0M620.5 537.5h0M621.25 518h0M621.5 518h0M621.75 508.25h0M621.75 518h0M622 498.5h0M622.5 498.5h0M622.75 498.5h0M623 498.5h0M623.25 518h0M623.75 498.5h0M624 498.5h0M624.25 518h0M624.75 498.5h0M624.75 537.5h0M625 518h0M625.25 537.5h0M625.5 537.5h0M625.75 518h0M626 537.5h0M626.25 498.5h0M626.5 518h0M627 479h0M627 537.5h0M627.5 479h0M627.5 537.5h0M627.75 537.5h0M628.25 498.5h0M628.25 537.5h0M628.5 479h0M628.75 498.5h0M629 498.5h0M629.25 479h0M629.5 479h0M629.5 537.5h0M629.75 537.5h0M630 518h0M630.25 518h0M630.25 537.5h0M630.75 518h0M631 479h0M631 498.5h0M631.25 498.5h0M631.25 518h0M631.5 498.5h0M631.5 518h0M632 498.5h0M632 537.5h0M633 479h0M633.25 518h0M633.5 498.5h0M633.75 498.5h0M634.25 498.5h0M634.5 498.5h0M634.75 498.5h0M635.25 498.5h0M635.5 479h0M635.75 498.5h0M636.25 498.5h0M636.5 479h0M636.75 479h0M636.75 518h0M637 518h0M637.5 498.5h0M637.5 518h0M637.75 518h0M638 498.5h0M638.5 498.5h0M638.75 498.5h0M639.5 518h0M639.75 518h0M640 508.25h0M641 479h0M641.25 479h0M641.25 498.5h0M641.75 479h0M642 479h0M642.25 498.5h0M643.25 498.5h0M643.75 518h0M644.5 498.5h0M644.75 479h0M645.25 518h0M645.75 518h0M647.25 498.5h0M647.5 498.5h0M647.75 459.25h0M648.25 498.5h0M648.75 498.5h0M649.75 498.5h0M650.5 498.5h0M651.5 479h0M652.25 479h0M652.75 479h0M654 459.25h0M654.25 498.5h0M654.75 479h0M655.25 479h0M656 479h0M657.25 498.5h0M658 479h0M658.5 518h0M659 459.25h0M659.25 479h0M660.25 459.25h0M662 479h0M663.25 459.25h0M664.75 459.25h0M668.75 479h0M670 439.75h0M671 498.5h0M676.5 498.5h0M678 479h0M679.5 420.25h0M681.25 498.5h0M683.75 439.75h0M691 420.25h0M693 439.75h0M694 430h0M711.5 400.75h0M729 479h0"/><path d="M586 537.5h0M586.5 537.5h0M586.75 537.5h0M587.25 537.5h0M587.75 537.5h0M588 537.5h0M588.25 537.5h0M588.75 537.5h0M589.25 537.5h0M589.5 537.5h0M590 537.5h0M590.25 537.5h0M591 537.5h0M591.5 537.5h0M591.75 537.5h0M592 537.5h0M592.5 537.5h0M593 537.5h0M593.5 537.5h0M593.75 518h0M593.75 547.25h0M594 518h0M594.25 537.5h0M594.5 537.5h0M594.75 537.5h0M595 537.5h0M595.25 537.5h0M595.5 518h0M595.5 537.5h0M595.75 537.5h0M596 518h0M596.25 518h0M596.5 518h0M596.75 518h0M597 537.5h0M597.25 518h0M597.5 537.5h0M597.75 537.5h0M598 518h0M598 537.5h0M598.25 537.5h0M598.5 537.5h0M599 518h0M599.25 537.5h0M599.5 518h0M599.5 537.5h0M600 537.5h0M600.25 537.5h0M600.5 518h0M600.5 537.5h0M601 537.5h0M601.25 537.5h0M601.5 537.5h0M601.75 537.5h0M602 537.5h0M602.25 518h0M602.25 537.5h0M603 518h0M603.25 518h0M603.5 537.5h0M603.75 518h0M603.75 537.5h0M604 527.75h0M604 537.5h0M604.5 518h0M604.5 537.5h0M604.75 527.75h0M605 518h0M605 537.5h0M605.25 527.75h0M605.5 537.5h0M605.75 518h0M605.75 537.5h0M606.25 518h0M606.75 537.5h0M607 518h0M607.25 518h0M607.5 537.5h0M607.75 537.5h0M608 518h0M608 537.5h0M608.25 537.5h0M608.5 518h0M608.5 537.5h0M608.75 518h0M609 508.25h0M609.25 498.5h0M609.25 527.75h0M609.5 537.5h0M609.75 498.5h0M610 518h0M610.25 498.5h0M610.5 537.5h0M611 498.5h0M611 537.5h0M611.5 498.5h0M611.5 537.5h0M612 498.5h0M612.25 498.5h0M612.25 518h0M612.25 537.5h0M612.5 537.5h0M612.75 527.75h0M613 518h0M613 537.5h0M613.25 537.5h0M613.5 537.5h0M613.75 498.5h0M613.75 537.5h0M614 518h0M614 537.5h0M614.25 537.5h0M614.5 498.5h0M614.75 527.75h0M615 498.5h0M615.25 498.5h0M615.5 518h0M615.5 537.5h0M615.75 498.5h0M615.75 537.5h0M616 518h0M616.25 498.5h0M616.5 498.5h0M616.5 537.5h0M616.75 498.5h0M617 498.5h0M617 537.5h0M617.5 498.5h0M617.75 498.5h0M617.75 537.5h0M618 537.5h0M618.25 498.5h0M618.25 537.5h0M618.75 498.5h0M618.75 537.5h0M619 537.5h0M619.25 498.5h0M619.25 537.5h0M619.5 537.5h0M620 498.5h0M620.25 498.5h0M621 537.5h0M621.25 537.5h0M621.5 518h0M621.75 508.25h0M622 498.5h0M622.25 498.5h0M622.5 498.5h0M622.75 498.5h0M623.25 498.5h0M623.5 498.5h0M623.75 518h0M624.25 498.5h0M624.25 518h0M624.75 518h0M624.75 537.5h0M625 537.5h0M625.5 498.5h0M625.5 537.5h0M625.75 518h0M626 537.5h0M626.25 518h0M626.5 537.5h0M627 498.5h0M627.25 498.5h0M627.5 518h0M627.5 537.5h0M628 498.5h0M628.25 518h0M628.25 537.5h0M628.5 537.5h0M628.75 518h0M629 498.5h0M629.25 498.5h0M629.5 498.5h0M629.75 479h0M629.75 537.5h0M630 518h0M630.25 537.5h0M630.5 498.5h0M630.75 518h0M631 498.5h0M631 518h0M631.25 498.5h0M631.5 479h0M631.5 498.5h0M631.75 518h0M632 498.5h0M632.5 479h0M633 479h0M633.25 537.5h0M633.75 488.75h0M633.75 518h0M634.25 498.5h0M634.5 508.25h0M635 518h0M635.25 518h0M635.5 518h0M636 498.5h0M636.25 527.75h0M636.5 479h0M636.75 498.5h0M637 498.5h0M637.25 498.5h0M637.5 498.5h0M637.75 498.5h0M637.75 518h0M638 498.5h0M638.75 498.5h0M639 518h0M639.5 537.5h0M640 459.25h0M640.5 498.5h0M641.25 459.25h0M641.25 479h0M641.25 518h0M641.75 479h0M642.25 459.25h0M642.75 498.5h0M643.5 498.5h0M644.25 498.5h0M644.5 498.5h0M645.25 479h0M645.5 498.5h0M646.25 498.5h0M647.5 479h0M647.5 518h0M648 479h0M648.25 498.5h0M649 479h0M650.25 498.5h0M650.75 498.5h0M652 498.5h0M652.25 498.5h0M653.5 498.5h0M654 479h0M654.25 498.5h0M654.75 498.5h0M655.25 479h0M656.25 459.25h0M657.25 498.5h0M658.25 479h0M658.75 439.75h0M659 498.5h0M659.75 479h0M660.75 459.25h0M662.75 459.25h0M664.5 498.5h0M667 459.25h0M669.75 498.5h0M670 439.75h0M671.5 479h0M676.5 498.5h0M678 479h0M679.5 459.25h0M682.25 400.75h0M686.75 439.75h0M691.25 498.5h0M693.25 439.75h0M699.5 459.25h0M712 439.75h0M732.25 420.25h0"/></g></g>
<g><rect x="101.1" y="627.47" width="156.25" height="156.25" fill="none" stroke="#dddddd" stroke-width="1.25"/><path d="M127.14 627.47V789.97M179.22 627.47V789.97M231.31 627.47V789.97M94.85 757.68H257.35M94.85 705.6H257.35M94.85 653.51H257.35" stroke="#f1f4fa" stroke-width="1.25" fill="none"/><path d="M101.1 627.47V783.72H257.35" stroke="#cbd2e3" stroke-width="1.25" fill="none"/><g font-size="12.5" fill="#545b6a" stroke="#545b6a" stroke-width=".2"><text x="127.14" y="802.35" text-anchor="middle">2</text><text x="179.22" y="802.35" text-anchor="middle">4</text><text x="231.31" y="802.35" text-anchor="middle">6</text><text x="92.35" y="761.43" text-anchor="end">2</text><text x="92.35" y="709.35" text-anchor="end">4</text><text x="92.35" y="657.26" text-anchor="end">6</text></g><g font-size="13.75" font-weight="bold" fill="#545b6a" text-anchor="middle" letter-spacing="-.15"><text x="179.22" y="821.33">order_id.value_count</text><text transform="translate(77.51 705.6) rotate(-90)">order_id.value_count</text></g><g fill="none" stroke="#3aa482" stroke-width="3.8" stroke-linecap="round" stroke-opacity=".75"><path d="M100.5 783h0M126.5 757h0M152.5 731h0M178.5 705h0M204.75 679h0M230.75 653h0M256.75 626.75h0"/><path d="M100.5 783h0M126.5 757h0M152.5 731h0M178.5 705h0M204.75 679h0M230.75 653h0"/><path d="M100.5 783h0M126.5 757h0M152.5 731h0M178.5 705h0M204.75 679h0M230.75 653h0"/></g></g>
<g><rect x="342.1" y="627.47" width="156.25" height="156.25" fill="none" stroke="#dddddd" stroke-width="1.25"/><path d="M342.1 627.47V789.97M390.93 627.47V789.97M439.76 627.47V789.97M488.58 627.47V789.97M335.85 757.68H498.35M335.85 705.6H498.35M335.85 653.51H498.35" stroke="#f1f4fa" stroke-width="1.25" fill="none"/><path d="M342.1 627.47V783.72H498.35" stroke="#cbd2e3" stroke-width="1.25" fill="none"/><g font-size="12.5" fill="#545b6a" stroke="#545b6a" stroke-width=".2"><text x="342.1" y="802.35" text-anchor="start">0</text><text x="390.93" y="802.35" text-anchor="middle">5</text><text x="439.76" y="802.35" text-anchor="middle">10</text><text x="488.58" y="802.35" text-anchor="middle">15</text><text x="333.35" y="761.43" text-anchor="end">2</text><text x="333.35" y="709.35" text-anchor="end">4</text><text x="333.35" y="657.26" text-anchor="end">6</text></g><g font-size="13.75" font-weight="bold" fill="#545b6a" text-anchor="middle" letter-spacing="-.15"><text x="420.23" y="821.33">products.quantity.sum</text><text transform="translate(318.51 705.6) rotate(-90)">order_id.value_count</text></g><g fill="none" stroke="#3aa482" stroke-width="3.8" stroke-linecap="round" stroke-opacity=".75"><path d="M351.25 783h0M361 783h0M370.75 757h0M380.5 731h0M380.5 757h0M380.5 783h0M390.25 731h0M400 731h0M400 757h0M409.75 705h0M419.5 705h0M419.5 731h0M419.5 757h0M439.25 679h0M439.25 705h0M439.25 731h0M458.75 705h0M458.75 731h0M478.25 679h0M478.25 705h0M497.75 653h0"/><path d="M351.25 783h0M361 783h0M370.75 757h0M380.5 757h0M380.5 783h0M390.25 705h0M390.25 731h0M400 731h0M400 757h0M419.5 705h0M419.5 731h0M419.5 757h0M439.25 679h0M439.25 705h0M439.25 731h0M458.75 679h0M458.75 705h0M458.75 731h0M478.25 679h0M478.25 705h0M497.75 653h0"/><path d="M351.25 783h0M361 783h0M370.75 757h0M380.5 757h0M380.5 783h0M390.25 731h0M390.25 757h0M400 731h0M400 757h0M419.5 705h0M419.5 731h0M419.5 757h0M439.25 679h0M439.25 705h0M439.25 731h0M458.75 679h0M458.75 705h0M468.5 653h0M478.25 679h0M497.75 626.75h0"/></g></g>
<g><rect x="583.1" y="627.47" width="156.25" height="156.25" fill="none" stroke="#dddddd" stroke-width="1.25"/><path d="M583.1 627.47V789.97M631.1 627.47V789.97M679.11 627.47V789.97M727.11 627.47V789.97M576.85 757.68H739.35M576.85 705.6H739.35M576.85 653.51H739.35" stroke="#f1f4fa" stroke-width="1.25" fill="none"/><path d="M583.1 627.47V783.72H739.35" stroke="#cbd2e3" stroke-width="1.25" fill="none"/><g font-size="12.5" fill="#545b6a" stroke="#545b6a" stroke-width=".2"><text x="583.1" y="802.35" text-anchor="start">0</text><text x="631.1" y="802.35" text-anchor="middle">200</text><text x="679.11" y="802.35" text-anchor="middle">400</text><text x="727.11" y="802.35" text-anchor="middle">600</text><text x="574.35" y="761.43" text-anchor="end">2</text><text x="574.35" y="709.35" text-anchor="end">4</text><text x="574.35" y="657.26" text-anchor="end">6</text></g><g font-size="13.75" font-weight="bold" fill="#545b6a" text-anchor="middle" letter-spacing="-.15"><text x="661.23" y="821.33">products.taxful_price.sum</text><text transform="translate(559.51 705.6) rotate(-90)">order_id.value_count</text></g><g fill="none" stroke="#3aa482" stroke-width="3.8" stroke-linecap="round" stroke-opacity=".75"><path d="M585.75 783h0M586 783h0M586.75 783h0M587 783h0M587.25 783h0M587.75 783h0M588 783h0M588.5 783h0M588.75 783h0M589.25 783h0M589.5 783h0M590 783h0M590.25 783h0M591 783h0M591.5 783h0M591.75 783h0M592 783h0M592.75 783h0M593 783h0M593.5 783h0M593.75 783h0M594 783h0M594.25 783h0M594.5 783h0M594.75 783h0M595 783h0M595.5 757h0M595.5 783h0M595.75 783h0M596 783h0M596.25 783h0M596.5 783h0M597 783h0M597.25 757h0M597.5 783h0M597.75 783h0M598 783h0M598.25 783h0M598.5 757h0M599 757h0M599 783h0M599.25 783h0M599.5 783h0M600 783h0M600.25 783h0M600.5 783h0M600.75 783h0M601.25 783h0M601.5 783h0M601.75 783h0M602 783h0M602.25 783h0M603 757h0M603.25 757h0M603.5 783h0M603.75 757h0M603.75 783h0M604 783h0M604.25 783h0M604.5 783h0M604.75 783h0M605 783h0M605.25 783h0M605.5 783h0M605.75 783h0M606 757h0M606.25 783h0M607 757h0M607 783h0M607.25 783h0M607.5 783h0M608 757h0M608 783h0M608.25 757h0M608.5 757h0M608.5 783h0M608.75 783h0M609 783h0M609.25 757h0M609.25 783h0M609.5 783h0M609.75 783h0M610.25 757h0M610.5 783h0M610.75 783h0M611 783h0M611.5 731h0M611.5 783h0M611.75 783h0M612 783h0M612.25 757h0M612.25 783h0M612.5 783h0M612.75 783h0M613 783h0M613.25 783h0M613.5 757h0M613.5 783h0M613.75 783h0M614 757h0M614 783h0M614.25 757h0M614.5 757h0M614.5 783h0M614.75 783h0M615 783h0M615.25 783h0M615.5 783h0M615.75 757h0M615.75 783h0M616.25 757h0M616.25 783h0M616.5 783h0M616.75 757h0M616.75 783h0M617 783h0M617.25 757h0M617.75 731h0M617.75 783h0M618 783h0M618.25 757h0M618.25 783h0M618.75 783h0M619 783h0M619.25 757h0M619.25 783h0M619.5 783h0M620 731h0M620.25 757h0M621 783h0M621.25 783h0M621.5 757h0M621.75 731h0M622 757h0M622.25 757h0M622.5 757h0M622.75 757h0M623.25 757h0M623.5 757h0M623.75 757h0M624.25 757h0M624.25 783h0M624.75 783h0M625 731h0M625.25 757h0M625.5 757h0M625.75 757h0M625.75 783h0M626.25 731h0M626.5 757h0M626.75 757h0M627 757h0M627.25 783h0M627.5 783h0M627.75 757h0M628.25 757h0M628.25 783h0M628.5 731h0M628.75 731h0M629 731h0M629 783h0M629.25 783h0M629.5 783h0M629.75 757h0M630 757h0M630.25 757h0M630.25 783h0M630.5 783h0M630.75 783h0M631 731h0M631 757h0M631.25 731h0M631.25 757h0M631.5 757h0M632 731h0M632 783h0M633 731h0M633.25 757h0M633.5 757h0M633.75 757h0M634.25 757h0M634.5 731h0M634.75 731h0M635.25 757h0M635.5 731h0M635.75 757h0M636.25 757h0M636.5 731h0M636.75 705h0M636.75 783h0M637 783h0M637.5 757h0M637.5 783h0M637.75 757h0M638 731h0M638.5 757h0M638.75 757h0M639.5 757h0M639.75 783h0M640 731h0M641 731h0M641.25 731h0M641.25 757h0M641.75 705h0M642 731h0M642.25 757h0M643.25 757h0M643.75 757h0M644.5 757h0M644.75 705h0M645.25 757h0M645.75 757h0M647.25 757h0M647.5 757h0M648 731h0M648.25 757h0M649 705h0M650.25 731h0M650.75 757h0M652 731h0M652.25 757h0M653.5 731h0M654 731h0M654.25 757h0M654.75 757h0M655.25 757h0M656.25 705h0M657.25 757h0M658.25 731h0M658.75 705h0M659 757h0M659.75 705h0M660.75 679h0M662.75 705h0M664.5 757h0M667 705h0M669.75 731h0M670 731h0M671.5 705h0M676.5 757h0M678 731h0M679.5 705h0M682.25 626.75h0M686.75 705h0M691.25 757h0M693.25 705h0M699.5 705h0M712 705h0M732.25 679h0"/><path d="M586 783h0M586.5 783h0M586.75 783h0M587 783h0M587.5 783h0M588 783h0M588.25 783h0M588.75 783h0M589 783h0M589.5 783h0M590 783h0M590.25 783h0M590.75 783h0M591 783h0M591.5 783h0M592 783h0M592.25 783h0M593 783h0M593.25 783h0M593.5 783h0M593.75 783h0M594 783h0M594.25 783h0M594.75 783h0M595 783h0M595.25 783h0M595.5 783h0M595.75 783h0M596 757h0M596.25 757h0M596.25 783h0M596.5 783h0M597 783h0M597.25 783h0M597.5 783h0M597.75 783h0M598 783h0M598.25 783h0M598.5 783h0M599 783h0M599.25 783h0M599.5 757h0M599.5 783h0M600 783h0M600.25 783h0M600.5 783h0M601 783h0M601.25 783h0M601.5 783h0M602 783h0M602.25 783h0M602.5 757h0M603 783h0M603.25 757h0M603.5 783h0M603.75 783h0M604 757h0M604 783h0M604.5 783h0M604.75 757h0M604.75 783h0M605 783h0M605.25 783h0M605.5 783h0M605.75 783h0M606 783h0M606.75 783h0M607 783h0M607.25 757h0M607.5 783h0M607.75 757h0M608 757h0M608 783h0M608.25 783h0M608.5 757h0M608.5 783h0M608.75 783h0M609.25 757h0M609.25 783h0M609.5 783h0M609.75 757h0M610 757h0M610.25 757h0M610.5 783h0M611 757h0M611 783h0M611.5 757h0M611.5 783h0M612 757h0M612.25 757h0M612.25 783h0M612.5 757h0M612.5 783h0M612.75 783h0M613 783h0M613.25 783h0M613.5 783h0M613.75 731h0M613.75 783h0M614 757h0M614 783h0M614.25 783h0M614.5 757h0M614.75 757h0M615 757h0M615.25 731h0M615.5 783h0M615.75 757h0M615.75 783h0M616 783h0M616.25 757h0M616.25 783h0M616.5 783h0M616.75 757h0M617 757h0M617 783h0M617.5 757h0M617.75 731h0M617.75 783h0M618 783h0M618.25 783h0M618.75 757h0M618.75 783h0M619 783h0M619.25 757h0M619.5 757h0M619.5 783h0M620 757h0M620.5 783h0M621.25 757h0M621.25 783h0M621.5 783h0M621.75 783h0M622 757h0M622.25 783h0M622.5 783h0M622.75 783h0M623.25 757h0M623.5 783h0M624 757h0M624.25 757h0M624.5 757h0M624.75 783h0M625 783h0M625.25 783h0M625.5 783h0M625.75 757h0M626 783h0M626.25 757h0M626.5 783h0M627 731h0M627 783h0M627.5 757h0M627.5 783h0M627.75 783h0M628.25 757h0M628.25 783h0M628.5 757h0M628.75 757h0M629 757h0M629.25 757h0M629.5 731h0M629.5 783h0M629.75 783h0M630 783h0M630.25 757h0M630.25 783h0M630.75 757h0M630.75 783h0M631 731h0M631 757h0M631.25 757h0M631.5 757h0M631.75 783h0M632 757h0M632.5 731h0M633 757h0M633.25 783h0M633.75 705h0M633.75 757h0M634.25 757h0M634.5 757h0M635 783h0M635.25 783h0M635.5 783h0M636 757h0M636.25 757h0M636.5 757h0M636.75 731h0M637 757h0M637.25 757h0M637.5 757h0M637.75 731h0M637.75 783h0M638 757h0M638.75 757h0M639 783h0M639.5 783h0M640 705h0M640.5 731h0M641.25 705h0M641.25 731h0M641.25 783h0M641.75 757h0M642.25 705h0M642.75 757h0M643.5 757h0M644.25 757h0M644.5 757h0M645.25 757h0M645.5 757h0M646.25 757h0M647.5 757h0M647.5 783h0M648.25 731h0M648.5 731h0M649.25 757h0M650.5 731h0M651 731h0M652.25 731h0M652.75 705h0M653.75 705h0M654 731h0M654.5 757h0M654.75 757h0M655.5 731h0M657 757h0M658 731h0M658.25 757h0M659 679h0M659 757h0M660.25 705h0M661.5 731h0M662.75 705h0M664.75 705h0M668.5 679h0M670 705h0M671 731h0M676 705h0M677.5 705h0M678 731h0M681.25 705h0M683.5 705h0M687.25 705h0M693 679h0M693.5 705h0M710 731h0M727.25 679h0M738 653h0"/><path d="M586 783h0M586.5 783h0M586.75 783h0M587.25 783h0M587.75 783h0M588 783h0M588.25 783h0M588.75 783h0M589.25 783h0M589.5 783h0M590 783h0M590.25 783h0M591 783h0M591.5 783h0M591.75 783h0M592 783h0M592.5 783h0M593 783h0M593.5 783h0M593.75 783h0M594 783h0M594.25 783h0M594.5 783h0M594.75 783h0M595 783h0M595.25 783h0M595.5 783h0M595.75 783h0M596 783h0M596.25 783h0M596.5 783h0M596.75 757h0M597 783h0M597.25 783h0M597.75 783h0M598 757h0M598 783h0M598.25 783h0M598.5 783h0M599 783h0M599.25 783h0M599.5 757h0M599.75 783h0M600 783h0M600.25 783h0M600.5 783h0M601.25 757h0M601.25 783h0M601.75 783h0M602 783h0M602.25 783h0M602.5 783h0M603 783h0M603.5 731h0M603.5 783h0M603.75 783h0M604 783h0M604.25 783h0M604.5 783h0M604.75 783h0M605 783h0M605.25 757h0M605.25 783h0M605.5 783h0M605.75 783h0M606.25 783h0M606.75 783h0M607 783h0M607.25 783h0M607.5 783h0M607.75 783h0M608 783h0M608.25 757h0M608.25 783h0M608.5 783h0M608.75 783h0M609 757h0M609.25 757h0M609.25 783h0M609.5 783h0M609.75 757h0M610.25 731h0M610.25 783h0M610.5 783h0M611 757h0M611.25 783h0M611.5 757h0M611.75 757h0M612 783h0M612.25 757h0M612.25 783h0M612.5 783h0M612.75 757h0M612.75 783h0M613 783h0M613.25 783h0M613.5 783h0M613.75 757h0M613.75 783h0M614 783h0M614.25 731h0M614.25 783h0M614.5 783h0M614.75 783h0M615 783h0M615.25 783h0M615.5 783h0M615.75 757h0M615.75 783h0M616 783h0M616.25 757h0M616.5 757h0M616.5 783h0M616.75 783h0M617 757h0M617.25 757h0M617.5 783h0M617.75 757h0M618 783h0M618.25 731h0M618.25 783h0M618.75 757h0M619 757h0M619 783h0M619.25 783h0M619.5 757h0M620 705h0M620 757h0M620.5 783h0M621.25 783h0M621.5 757h0M621.75 731h0M621.75 783h0M622 757h0M622.5 757h0M622.75 731h0M623 757h0M623.25 757h0M623.75 757h0M624 757h0M624.25 783h0M624.75 757h0M624.75 783h0M625 783h0M625.5 731h0M625.5 783h0M625.75 783h0M626 783h0M626.25 783h0M626.5 783h0M627 757h0M627.25 757h0M627.5 757h0M627.5 783h0M628 731h0M628.25 757h0M628.25 783h0M628.5 783h0M628.75 783h0M629 757h0M629.25 757h0M629.5 757h0M629.75 757h0M629.75 783h0M630 783h0M630.25 783h0M630.5 757h0M630.75 783h0M631 731h0M631 757h0M631 783h0M631.25 757h0M631.5 757h0M632 731h0M632 783h0M632.5 783h0M633 757h0M633.5 731h0M633.75 757h0M634 757h0M634.25 783h0M634.5 783h0M635.25 731h0M635.25 783h0M635.75 757h0M636.25 757h0M636.25 783h0M636.5 783h0M636.75 757h0M637 783h0M637.5 757h0M637.5 783h0M637.75 757h0M637.75 783h0M638 757h0M638.75 757h0M639.5 757h0M639.75 731h0M640 731h0M640.5 783h0M641.25 731h0M641.25 757h0M641.5 731h0M641.75 757h0M642.25 731h0M642.75 757h0M643.75 757h0M644.25 783h0M644.5 757h0M645.25 757h0M645.75 679h0M646.75 757h0M647.5 757h0M647.75 705h0M648.25 757h0M648.75 731h0M649.75 757h0M650.5 757h0M651.5 731h0M652.25 757h0M652.75 731h0M654 731h0M654.25 731h0M654.75 731h0M655.25 731h0M656 757h0M657.25 757h0M658 731h0M658.5 783h0M659 731h0M659.25 757h0M660.25 705h0M662 731h0M663.25 731h0M664.75 731h0M668.75 757h0M670 705h0M671 757h0M676.5 731h0M678 731h0M679.5 679h0M681.25 757h0M683.75 705h0M691 679h0M693 679h0M694 653h0M711.5 653h0M729 757h0"/></g></g>
</svg>
</body>
</html>
